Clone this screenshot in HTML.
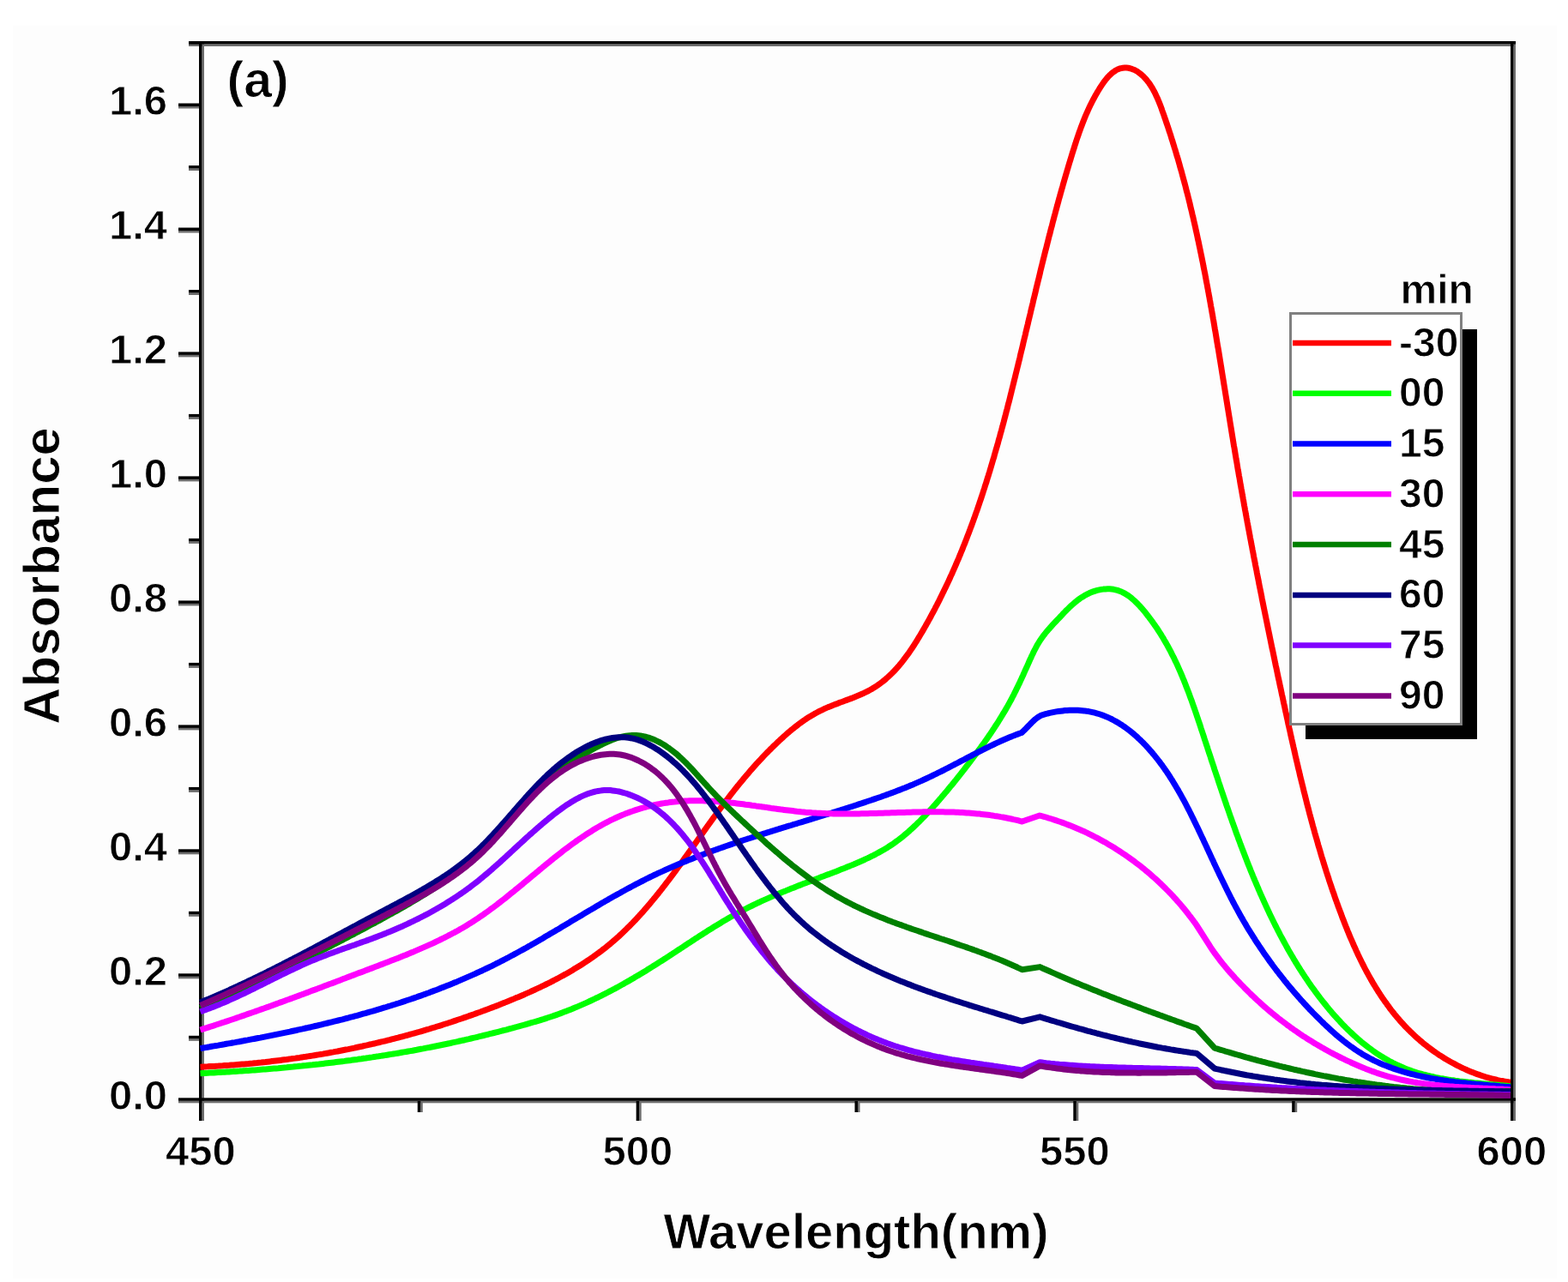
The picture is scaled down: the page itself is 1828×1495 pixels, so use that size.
<!DOCTYPE html><html><head><meta charset="utf-8"><title>Absorbance spectra</title><style>html,body{margin:0;padding:0;background:#fff;}svg{display:block;}</style></head><body><svg width="1828" height="1495" viewBox="0 0 1828 1495"><rect x="15" y="30" width="1800" height="1461" fill="#fdfdfd"/><g><g fill="#6e6e6e"><rect x="235.5" y="48.0" width="2.5" height="1259.0"/><rect x="1764.5" y="48.0" width="2.5" height="1259.0"/><rect x="220.0" y="51.5" width="1547.0" height="2.5"/><rect x="208.0" y="1283.8" width="1559.0" height="2.5"/><rect x="220.0" y="1211.3" width="14.0" height="2.5"/><rect x="208.0" y="1138.8" width="26.0" height="2.5"/><rect x="220.0" y="1066.3" width="14.0" height="2.5"/><rect x="208.0" y="993.8" width="26.0" height="2.5"/><rect x="220.0" y="921.4" width="14.0" height="2.5"/><rect x="208.0" y="848.9" width="26.0" height="2.5"/><rect x="220.0" y="776.4" width="14.0" height="2.5"/><rect x="208.0" y="703.9" width="26.0" height="2.5"/><rect x="220.0" y="631.4" width="14.0" height="2.5"/><rect x="208.0" y="558.9" width="26.0" height="2.5"/><rect x="220.0" y="486.4" width="14.0" height="2.5"/><rect x="208.0" y="413.9" width="26.0" height="2.5"/><rect x="220.0" y="341.5" width="14.0" height="2.5"/><rect x="208.0" y="269.0" width="26.0" height="2.5"/><rect x="220.0" y="196.5" width="14.0" height="2.5"/><rect x="208.0" y="124.0" width="26.0" height="2.5"/><rect x="220.0" y="51.5" width="14.0" height="2.5"/><rect x="490.3" y="1284.0" width="2.5" height="13.0"/><rect x="745.2" y="1284.0" width="2.5" height="23.0"/><rect x="1000.0" y="1284.0" width="2.5" height="13.0"/><rect x="1254.8" y="1284.0" width="2.5" height="23.0"/><rect x="1509.7" y="1284.0" width="2.5" height="13.0"/></g><g fill="#000"><rect x="232.0" y="48.0" width="3.5" height="1259.0"/><rect x="1761.0" y="48.0" width="3.5" height="1259.0"/><rect x="220.0" y="48.0" width="1547.0" height="3.5"/><rect x="208.0" y="1280.3" width="1559.0" height="3.5"/><rect x="220.0" y="1207.8" width="14.0" height="3.5"/><rect x="208.0" y="1135.3" width="26.0" height="3.5"/><rect x="220.0" y="1062.8" width="14.0" height="3.5"/><rect x="208.0" y="990.3" width="26.0" height="3.5"/><rect x="220.0" y="917.9" width="14.0" height="3.5"/><rect x="208.0" y="845.4" width="26.0" height="3.5"/><rect x="220.0" y="772.9" width="14.0" height="3.5"/><rect x="208.0" y="700.4" width="26.0" height="3.5"/><rect x="220.0" y="627.9" width="14.0" height="3.5"/><rect x="208.0" y="555.4" width="26.0" height="3.5"/><rect x="220.0" y="482.9" width="14.0" height="3.5"/><rect x="208.0" y="410.4" width="26.0" height="3.5"/><rect x="220.0" y="338.0" width="14.0" height="3.5"/><rect x="208.0" y="265.5" width="26.0" height="3.5"/><rect x="220.0" y="193.0" width="14.0" height="3.5"/><rect x="208.0" y="120.5" width="26.0" height="3.5"/><rect x="220.0" y="48.0" width="14.0" height="3.5"/><rect x="486.8" y="1284.0" width="3.5" height="13.0"/><rect x="741.7" y="1284.0" width="3.5" height="23.0"/><rect x="996.5" y="1284.0" width="3.5" height="13.0"/><rect x="1251.3" y="1284.0" width="3.5" height="23.0"/><rect x="1506.2" y="1284.0" width="3.5" height="13.0"/></g></g><g fill="none" stroke-width="7" stroke-linejoin="round" stroke-linecap="butt"><path d="M233.5 1244.2 L237.0 1244.0 239.5 1243.9 242.0 1243.8 244.5 1243.6 247.0 1243.5 249.6 1243.4 252.1 1243.2 254.6 1243.1 257.1 1242.9 259.6 1242.8 262.1 1242.6 264.6 1242.4 267.1 1242.3 269.6 1242.1 272.1 1241.9 274.6 1241.7 277.1 1241.5 279.6 1241.3 282.1 1241.1 284.6 1240.9 287.1 1240.7 289.6 1240.5 292.1 1240.2 294.6 1240.0 297.1 1239.7 299.6 1239.5 302.0 1239.2 304.5 1239.0 307.0 1238.7 309.5 1238.5 312.0 1238.2 314.5 1237.9 317.0 1237.6 319.4 1237.3 321.9 1237.0 324.4 1236.7 326.9 1236.4 329.4 1236.1 331.8 1235.8 334.3 1235.5 336.8 1235.1 339.3 1234.8 341.8 1234.4 344.2 1234.1 346.7 1233.7 349.2 1233.4 351.6 1233.0 354.1 1232.6 356.6 1232.3 359.0 1231.9 361.5 1231.5 364.0 1231.1 366.4 1230.7 368.9 1230.3 371.4 1229.9 373.8 1229.5 376.3 1229.1 378.7 1228.6 381.2 1228.2 383.7 1227.8 386.1 1227.3 388.6 1226.9 391.0 1226.4 393.5 1226.0 395.9 1225.5 398.4 1225.0 400.8 1224.5 403.3 1224.0 405.7 1223.6 408.2 1223.1 410.6 1222.6 413.0 1222.1 415.5 1221.5 417.9 1221.0 420.4 1220.5 422.8 1220.0 425.2 1219.4 427.7 1218.9 430.1 1218.3 432.5 1217.8 435.0 1217.2 437.4 1216.7 439.8 1216.1 442.3 1215.5 444.7 1214.9 447.1 1214.4 449.5 1213.8 452.0 1213.2 454.4 1212.6 456.8 1211.9 459.2 1211.3 461.7 1210.7 464.1 1210.1 466.5 1209.4 468.9 1208.8 471.3 1208.2 473.7 1207.5 476.1 1206.9 478.6 1206.2 481.0 1205.5 483.4 1204.8 485.8 1204.2 488.2 1203.5 490.6 1202.8 493.0 1202.1 495.4 1201.4 497.8 1200.7 500.2 1200.0 502.6 1199.2 505.0 1198.5 507.4 1197.8 509.8 1197.0 512.2 1196.3 514.5 1195.6 516.9 1194.8 519.3 1194.0 521.7 1193.3 524.1 1192.5 526.5 1191.7 528.9 1190.9 531.2 1190.1 533.6 1189.3 536.0 1188.5 538.4 1187.7 540.7 1186.9 543.1 1186.1 545.5 1185.3 547.9 1184.4 550.2 1183.6 552.6 1182.8 555.0 1181.9 557.3 1181.0 559.7 1180.2 562.1 1179.3 564.4 1178.4 566.8 1177.6 569.1 1176.7 571.5 1175.8 573.9 1174.9 576.2 1174.0 578.6 1173.1 580.9 1172.2 583.3 1171.2 585.6 1170.3 588.0 1169.4 590.3 1168.4 592.6 1167.5 595.0 1166.5 597.3 1165.6 599.6 1164.6 602.0 1163.6 604.3 1162.7 606.6 1161.7 608.9 1160.7 611.3 1159.7 613.6 1158.6 615.9 1157.6 618.2 1156.6 620.5 1155.5 622.8 1154.5 625.1 1153.4 627.3 1152.4 629.6 1151.3 631.9 1150.2 634.2 1149.1 636.4 1148.0 638.7 1146.9 640.9 1145.8 643.2 1144.6 645.4 1143.5 647.6 1142.3 649.8 1141.2 652.0 1140.0 654.2 1138.8 656.4 1137.6 658.6 1136.4 660.8 1135.2 663.0 1133.9 665.1 1132.7 667.3 1131.4 669.4 1130.1 671.6 1128.8 673.7 1127.5 675.8 1126.2 677.9 1124.9 680.0 1123.6 682.1 1122.2 684.1 1120.8 686.2 1119.5 688.2 1118.1 690.3 1116.7 692.3 1115.2 694.3 1113.8 696.3 1112.3 698.3 1110.9 700.3 1109.4 702.2 1107.9 704.2 1106.4 706.1 1104.9 708.1 1103.3 710.0 1101.8 711.9 1100.2 713.7 1098.6 715.6 1097.0 717.5 1095.4 719.3 1093.7 721.2 1092.1 723.0 1090.4 724.8 1088.7 726.6 1087.0 728.4 1085.3 730.1 1083.6 731.9 1081.8 733.7 1080.1 735.4 1078.3 737.1 1076.6 738.8 1074.8 740.6 1073.0 742.3 1071.2 743.9 1069.4 745.6 1067.5 747.3 1065.7 749.0 1063.8 750.6 1062.0 752.2 1060.1 753.9 1058.2 755.5 1056.3 757.1 1054.4 758.7 1052.5 760.3 1050.6 761.9 1048.6 763.5 1046.7 765.1 1044.8 766.7 1042.8 768.2 1040.8 769.8 1038.9 771.4 1036.9 772.9 1034.9 774.5 1032.9 776.0 1030.9 777.5 1028.9 779.1 1026.9 780.6 1024.9 782.1 1022.9 783.6 1020.9 785.1 1018.9 786.6 1016.8 788.1 1014.8 789.6 1012.7 791.1 1010.7 792.6 1008.7 794.1 1006.6 795.6 1004.6 797.0 1002.5 798.5 1000.4 800.0 998.4 801.5 996.3 802.9 994.3 804.4 992.2 805.9 990.1 807.3 988.1 808.8 986.0 810.3 983.9 811.7 981.9 813.2 979.8 814.7 977.7 816.1 975.7 817.6 973.6 819.1 971.5 820.5 969.5 822.0 967.4 823.5 965.3 824.9 963.3 826.4 961.2 827.9 959.2 829.3 957.1 830.8 955.1 832.3 953.0 833.8 951.0 835.3 949.0 836.7 946.9 838.2 944.9 839.7 942.9 841.2 940.9 842.7 938.9 844.2 936.9 845.7 934.9 847.2 932.9 848.8 930.9 850.3 928.9 851.8 926.9 853.3 924.9 854.9 923.0 856.4 921.0 858.0 919.1 859.5 917.1 861.1 915.2 862.6 913.3 864.2 911.4 865.8 909.5 867.4 907.5 869.0 905.7 870.6 903.8 872.2 901.9 873.8 900.0 875.4 898.1 877.0 896.3 878.7 894.4 880.3 892.6 882.0 890.7 883.7 888.9 885.3 887.1 887.0 885.3 888.7 883.5 890.4 881.7 892.1 879.9 893.8 878.1 895.6 876.4 897.3 874.6 899.1 872.9 900.8 871.1 902.6 869.4 904.4 867.7 906.2 865.9 908.0 864.2 909.8 862.5 911.7 860.9 913.5 859.2 915.4 857.5 917.2 855.9 919.1 854.2 921.0 852.6 922.9 851.0 924.9 849.5 926.8 847.9 928.8 846.4 930.8 844.8 932.8 843.3 934.8 841.9 936.9 840.4 938.9 839.0 941.0 837.6 943.1 836.3 945.3 835.0 947.4 833.7 949.6 832.4 951.8 831.2 954.0 830.0 956.3 828.9 958.6 827.8 960.9 826.7 963.2 825.6 965.5 824.6 967.9 823.7 970.3 822.7 972.7 821.8 975.1 820.9 977.5 819.9 979.9 819.0 982.3 818.2 984.7 817.3 987.1 816.4 989.5 815.5 991.9 814.6 994.3 813.7 996.7 812.7 999.0 811.8 1001.4 810.8 1003.7 809.8 1006.0 808.8 1008.3 807.7 1010.5 806.6 1012.7 805.5 1014.9 804.3 1017.0 803.1 1019.1 801.8 1021.2 800.5 1023.2 799.1 1025.2 797.7 1027.1 796.3 1029.1 794.8 1031.0 793.2 1032.8 791.7 1034.7 790.0 1036.5 788.4 1038.2 786.7 1040.0 785.0 1041.7 783.3 1043.4 781.5 1045.1 779.7 1046.7 777.8 1048.3 776.0 1049.9 774.1 1051.5 772.1 1053.0 770.2 1054.5 768.2 1056.0 766.2 1057.5 764.2 1059.0 762.2 1060.4 760.1 1061.8 758.0 1063.2 756.0 1064.6 753.8 1066.0 751.7 1067.3 749.6 1068.7 747.5 1070.0 745.3 1071.3 743.1 1072.6 741.0 1073.9 738.8 1075.2 736.6 1076.5 734.4 1077.7 732.2 1079.0 730.0 1080.2 727.8 1081.5 725.6 1082.7 723.4 1083.9 721.2 1085.1 719.0 1086.3 716.7 1087.5 714.5 1088.7 712.3 1089.9 710.1 1091.0 707.8 1092.2 705.6 1093.3 703.4 1094.5 701.1 1095.6 698.9 1096.7 696.6 1097.8 694.4 1098.9 692.1 1100.0 689.9 1101.1 687.6 1102.2 685.4 1103.3 683.1 1104.4 680.8 1105.4 678.6 1106.5 676.3 1107.5 674.0 1108.5 671.7 1109.6 669.5 1110.6 667.2 1111.6 664.9 1112.6 662.6 1113.6 660.3 1114.6 658.0 1115.6 655.7 1116.6 653.4 1117.6 651.1 1118.5 648.8 1119.5 646.5 1120.4 644.2 1121.4 641.9 1122.3 639.6 1123.2 637.2 1124.2 634.9 1125.1 632.6 1126.0 630.3 1126.9 628.0 1127.8 625.6 1128.7 623.3 1129.6 621.0 1130.5 618.6 1131.3 616.3 1132.2 613.9 1133.1 611.6 1133.9 609.3 1134.8 606.9 1135.6 604.6 1136.5 602.2 1137.3 599.9 1138.1 597.5 1139.0 595.2 1139.8 592.8 1140.6 590.4 1141.4 588.1 1142.2 585.7 1143.0 583.3 1143.8 581.0 1144.6 578.6 1145.4 576.2 1146.1 573.9 1146.9 571.5 1147.7 569.1 1148.4 566.7 1149.2 564.3 1150.0 562.0 1150.7 559.6 1151.4 557.2 1152.2 554.8 1152.9 552.4 1153.7 550.0 1154.4 547.6 1155.1 545.2 1155.8 542.8 1156.5 540.4 1157.2 538.1 1157.9 535.7 1158.7 533.3 1159.3 530.9 1160.0 528.4 1160.7 526.0 1161.4 523.6 1162.1 521.2 1162.8 518.8 1163.5 516.4 1164.1 514.0 1164.8 511.6 1165.5 509.2 1166.1 506.8 1166.8 504.3 1167.5 501.9 1168.1 499.5 1168.8 497.1 1169.4 494.7 1170.1 492.2 1170.7 489.8 1171.3 487.4 1172.0 485.0 1172.6 482.6 1173.2 480.1 1173.9 477.7 1174.5 475.3 1175.1 472.8 1175.7 470.4 1176.4 468.0 1177.0 465.6 1177.6 463.1 1178.2 460.7 1178.8 458.3 1179.4 455.8 1180.0 453.4 1180.6 451.0 1181.2 448.5 1181.8 446.1 1182.4 443.7 1183.0 441.2 1183.6 438.8 1184.2 436.3 1184.8 433.9 1185.4 431.5 1186.0 429.0 1186.6 426.6 1187.2 424.1 1187.8 421.7 1188.4 419.3 1189.0 416.8 1189.5 414.4 1190.1 411.9 1190.7 409.5 1191.3 407.1 1191.9 404.6 1192.5 402.2 1193.0 399.7 1193.6 397.3 1194.2 394.8 1194.8 392.4 1195.4 390.0 1195.9 387.5 1196.5 385.1 1197.1 382.6 1197.7 380.2 1198.3 377.7 1198.8 375.3 1199.4 372.9 1200.0 370.4 1200.6 368.0 1201.2 365.5 1201.7 363.1 1202.3 360.6 1202.9 358.2 1203.5 355.8 1204.1 353.3 1204.6 350.9 1205.2 348.4 1205.8 346.0 1206.4 343.6 1207.0 341.1 1207.6 338.7 1208.1 336.2 1208.7 333.8 1209.3 331.4 1209.9 328.9 1210.5 326.5 1211.1 324.1 1211.7 321.6 1212.3 319.2 1212.8 316.8 1213.4 314.3 1214.0 311.9 1214.6 309.5 1215.2 307.0 1215.8 304.6 1216.4 302.2 1217.0 299.7 1217.6 297.3 1218.2 294.9 1218.8 292.4 1219.5 290.0 1220.1 287.6 1220.7 285.2 1221.3 282.7 1221.9 280.3 1222.5 277.9 1223.1 275.5 1223.8 273.1 1224.4 270.6 1225.0 268.2 1225.6 265.8 1226.3 263.4 1226.9 261.0 1227.5 258.5 1228.2 256.1 1228.8 253.7 1229.4 251.3 1230.1 248.9 1230.7 246.5 1231.4 244.1 1232.0 241.7 1232.7 239.3 1233.3 236.9 1234.0 234.5 1234.6 232.1 1235.3 229.7 1236.0 227.3 1236.6 224.9 1237.3 222.5 1238.0 220.1 1238.7 217.7 1239.3 215.3 1240.0 212.9 1240.7 210.5 1241.4 208.1 1242.1 205.7 1242.8 203.3 1243.5 200.9 1244.2 198.6 1244.9 196.2 1245.6 193.8 1246.3 191.4 1247.0 189.1 1247.8 186.7 1248.5 184.3 1249.2 181.9 1249.9 179.6 1250.7 177.2 1251.4 174.8 1252.2 172.5 1252.9 170.1 1253.7 167.7 1254.4 165.4 1255.2 163.0 1256.0 160.7 1256.8 158.3 1257.6 156.0 1258.4 153.6 1259.3 151.3 1260.1 148.9 1261.0 146.6 1261.9 144.2 1262.8 141.9 1263.7 139.6 1264.7 137.2 1265.6 134.9 1266.6 132.6 1267.7 130.2 1268.7 127.9 1269.8 125.6 1270.9 123.2 1272.1 120.9 1273.2 118.6 1274.4 116.3 1275.7 114.0 1276.9 111.6 1278.3 109.3 1279.6 107.0 1281.0 104.7 1282.4 102.4 1283.9 100.1 1285.4 97.9 1286.9 95.7 1288.5 93.6 1290.1 91.6 1291.8 89.7 1293.5 87.9 1295.3 86.2 1297.1 84.6 1299.0 83.3 1300.9 82.0 1302.8 81.0 1304.8 80.2 1306.9 79.6 1309.0 79.2 1311.1 79.0 1313.2 79.1 1315.4 79.3 1317.5 79.7 1319.6 80.4 1321.7 81.2 1323.8 82.2 1325.8 83.3 1327.7 84.7 1329.6 86.1 1331.5 87.7 1333.2 89.3 1334.9 91.1 1336.5 92.9 1338.0 94.8 1339.5 96.7 1340.9 98.8 1342.2 100.8 1343.5 102.9 1344.7 105.1 1345.9 107.3 1347.0 109.6 1348.1 111.9 1349.2 114.2 1350.2 116.6 1351.2 118.9 1352.1 121.3 1353.1 123.8 1354.0 126.2 1354.8 128.6 1355.7 131.1 1356.6 133.5 1357.4 136.0 1358.3 138.4 1359.1 140.9 1359.9 143.3 1360.8 145.8 1361.6 148.2 1362.4 150.6 1363.2 153.1 1364.0 155.5 1364.8 157.9 1365.5 160.4 1366.3 162.8 1367.1 165.2 1367.8 167.7 1368.6 170.1 1369.3 172.5 1370.1 174.9 1370.8 177.4 1371.5 179.8 1372.2 182.2 1373.0 184.6 1373.7 187.0 1374.4 189.5 1375.1 191.9 1375.7 194.3 1376.4 196.7 1377.1 199.1 1377.8 201.5 1378.4 204.0 1379.1 206.4 1379.7 208.8 1380.4 211.2 1381.0 213.6 1381.7 216.0 1382.3 218.4 1382.9 220.9 1383.5 223.3 1384.2 225.7 1384.8 228.1 1385.4 230.5 1386.0 232.9 1386.6 235.3 1387.2 237.7 1387.7 240.2 1388.3 242.6 1388.9 245.0 1389.5 247.4 1390.0 249.8 1390.6 252.2 1391.2 254.6 1391.7 257.1 1392.3 259.5 1392.8 261.9 1393.4 264.3 1393.9 266.7 1394.4 269.2 1395.0 271.6 1395.5 274.0 1396.0 276.4 1396.5 278.9 1397.1 281.3 1397.6 283.7 1398.1 286.2 1398.6 288.6 1399.1 291.0 1399.6 293.5 1400.1 295.9 1400.6 298.3 1401.1 300.8 1401.6 303.2 1402.1 305.6 1402.6 308.1 1403.0 310.5 1403.5 313.0 1404.0 315.4 1404.5 317.9 1405.0 320.3 1405.4 322.8 1405.9 325.2 1406.3 327.7 1406.8 330.1 1407.3 332.6 1407.7 335.0 1408.2 337.5 1408.6 339.9 1409.1 342.4 1409.5 344.8 1410.0 347.3 1410.4 349.7 1410.9 352.2 1411.3 354.7 1411.7 357.1 1412.2 359.6 1412.6 362.0 1413.0 364.5 1413.5 367.0 1413.9 369.4 1414.3 371.9 1414.8 374.4 1415.2 376.8 1415.6 379.3 1416.0 381.8 1416.4 384.2 1416.9 386.7 1417.3 389.2 1417.7 391.6 1418.1 394.1 1418.5 396.6 1418.9 399.1 1419.3 401.5 1419.7 404.0 1420.2 406.5 1420.6 408.9 1421.0 411.4 1421.4 413.9 1421.8 416.4 1422.2 418.8 1422.6 421.3 1423.0 423.8 1423.4 426.3 1423.8 428.7 1424.2 431.2 1424.6 433.7 1425.0 436.2 1425.4 438.7 1425.8 441.1 1426.2 443.6 1426.6 446.1 1427.0 448.6 1427.4 451.0 1427.8 453.5 1428.2 456.0 1428.6 458.5 1429.0 461.0 1429.4 463.4 1429.8 465.9 1430.2 468.4 1430.6 470.9 1431.0 473.4 1431.4 475.8 1431.8 478.3 1432.2 480.8 1432.6 483.3 1433.0 485.8 1433.4 488.2 1433.8 490.7 1434.2 493.2 1434.6 495.7 1435.0 498.1 1435.4 500.6 1435.8 503.1 1436.2 505.6 1436.6 508.1 1437.0 510.5 1437.4 513.0 1437.8 515.5 1438.2 518.0 1438.6 520.4 1439.1 522.9 1439.5 525.4 1439.9 527.9 1440.3 530.3 1440.7 532.8 1441.1 535.3 1441.6 537.8 1442.0 540.2 1442.4 542.7 1442.8 545.2 1443.2 547.7 1443.7 550.1 1444.1 552.6 1444.5 555.1 1445.0 557.5 1445.4 560.0 1445.8 562.5 1446.2 565.0 1446.7 567.4 1447.1 569.9 1447.6 572.4 1448.0 574.8 1448.4 577.3 1448.9 579.8 1449.3 582.2 1449.8 584.7 1450.2 587.2 1450.6 589.6 1451.1 592.1 1451.5 594.6 1452.0 597.0 1452.4 599.5 1452.9 602.0 1453.3 604.4 1453.8 606.9 1454.2 609.4 1454.7 611.8 1455.1 614.3 1455.6 616.7 1456.1 619.2 1456.5 621.7 1457.0 624.1 1457.4 626.6 1457.9 629.1 1458.4 631.5 1458.8 634.0 1459.3 636.4 1459.8 638.9 1460.2 641.4 1460.7 643.8 1461.2 646.3 1461.6 648.7 1462.1 651.2 1462.6 653.7 1463.1 656.1 1463.5 658.6 1464.0 661.0 1464.5 663.5 1465.0 665.9 1465.4 668.4 1465.9 670.9 1466.4 673.3 1466.9 675.8 1467.4 678.2 1467.8 680.7 1468.3 683.1 1468.8 685.6 1469.3 688.0 1469.8 690.5 1470.3 693.0 1470.8 695.4 1471.2 697.9 1471.7 700.3 1472.2 702.8 1472.7 705.2 1473.2 707.7 1473.7 710.1 1474.2 712.6 1474.7 715.0 1475.2 717.5 1475.7 719.9 1476.2 722.4 1476.7 724.8 1477.2 727.3 1477.7 729.7 1478.2 732.2 1478.7 734.6 1479.2 737.1 1479.7 739.5 1480.2 742.0 1480.7 744.4 1481.2 746.9 1481.7 749.3 1482.2 751.8 1482.7 754.2 1483.2 756.7 1483.8 759.1 1484.3 761.6 1484.8 764.0 1485.3 766.5 1485.8 768.9 1486.3 771.4 1486.8 773.8 1487.3 776.2 1487.9 778.7 1488.4 781.1 1488.9 783.6 1489.4 786.0 1489.9 788.5 1490.4 790.9 1491.0 793.4 1491.5 795.8 1492.0 798.3 1492.5 800.7 1493.1 803.1 1493.6 805.6 1494.1 808.0 1494.6 810.5 1495.2 812.9 1495.7 815.4 1496.2 817.8 1496.7 820.2 1497.3 822.7 1497.8 825.1 1498.3 827.6 1498.8 830.0 1499.4 832.5 1499.9 834.9 1500.4 837.3 1501.0 839.8 1501.5 842.2 1502.0 844.7 1502.6 847.1 1503.1 849.5 1503.7 852.0 1504.2 854.4 1504.7 856.9 1505.3 859.3 1505.8 861.7 1506.4 864.2 1506.9 866.6 1507.5 869.0 1508.0 871.5 1508.6 873.9 1509.1 876.4 1509.7 878.8 1510.2 881.2 1510.8 883.7 1511.3 886.1 1511.9 888.5 1512.5 891.0 1513.0 893.4 1513.6 895.8 1514.2 898.3 1514.8 900.7 1515.3 903.1 1515.9 905.6 1516.5 908.0 1517.1 910.4 1517.7 912.8 1518.3 915.3 1518.9 917.7 1519.5 920.1 1520.0 922.5 1520.7 925.0 1521.3 927.4 1521.9 929.8 1522.5 932.2 1523.1 934.7 1523.7 937.1 1524.3 939.5 1525.0 941.9 1525.6 944.3 1526.2 946.8 1526.8 949.2 1527.5 951.6 1528.1 954.0 1528.8 956.4 1529.4 958.8 1530.1 961.3 1530.7 963.7 1531.4 966.1 1532.1 968.5 1532.7 970.9 1533.4 973.3 1534.1 975.7 1534.8 978.1 1535.5 980.5 1536.2 982.9 1536.8 985.4 1537.6 987.8 1538.3 990.2 1539.0 992.6 1539.7 995.0 1540.4 997.4 1541.1 999.8 1541.9 1002.2 1542.6 1004.6 1543.3 1006.9 1544.1 1009.3 1544.8 1011.7 1545.6 1014.1 1546.3 1016.5 1547.1 1018.9 1547.9 1021.3 1548.7 1023.7 1549.4 1026.1 1550.2 1028.5 1551.0 1030.8 1551.8 1033.2 1552.6 1035.6 1553.4 1038.0 1554.3 1040.4 1555.1 1042.7 1555.9 1045.1 1556.7 1047.5 1557.6 1049.9 1558.4 1052.2 1559.3 1054.6 1560.1 1057.0 1561.0 1059.3 1561.9 1061.7 1562.8 1064.1 1563.7 1066.4 1564.5 1068.8 1565.4 1071.2 1566.4 1073.5 1567.3 1075.9 1568.2 1078.2 1569.1 1080.6 1570.1 1082.9 1571.0 1085.3 1572.0 1087.6 1572.9 1089.9 1573.9 1092.3 1574.9 1094.6 1575.9 1096.9 1576.9 1099.2 1577.9 1101.5 1578.9 1103.8 1580.0 1106.1 1581.0 1108.4 1582.1 1110.7 1583.1 1113.0 1584.2 1115.3 1585.3 1117.5 1586.4 1119.8 1587.5 1122.0 1588.6 1124.3 1589.8 1126.5 1590.9 1128.7 1592.1 1131.0 1593.3 1133.2 1594.5 1135.4 1595.7 1137.6 1596.9 1139.7 1598.1 1141.9 1599.4 1144.1 1600.6 1146.2 1601.9 1148.4 1603.2 1150.5 1604.5 1152.6 1605.8 1154.7 1607.1 1156.8 1608.5 1158.9 1609.8 1161.0 1611.2 1163.0 1612.6 1165.1 1614.0 1167.1 1615.5 1169.1 1616.9 1171.1 1618.4 1173.1 1619.8 1175.1 1621.3 1177.1 1622.9 1179.1 1624.4 1181.0 1625.9 1182.9 1627.5 1184.8 1629.1 1186.7 1630.7 1188.6 1632.3 1190.5 1634.0 1192.3 1635.7 1194.2 1637.3 1196.0 1639.0 1197.8 1640.8 1199.6 1642.5 1201.3 1644.3 1203.1 1646.1 1204.8 1647.9 1206.5 1649.7 1208.2 1651.5 1209.9 1653.4 1211.5 1655.3 1213.2 1657.2 1214.8 1659.1 1216.4 1661.1 1218.0 1663.1 1219.5 1665.0 1221.1 1667.1 1222.6 1669.1 1224.1 1671.1 1225.6 1673.2 1227.0 1675.3 1228.5 1677.3 1229.9 1679.5 1231.2 1681.6 1232.6 1683.7 1233.9 1685.9 1235.3 1688.0 1236.5 1690.2 1237.8 1692.4 1239.0 1694.7 1240.2 1696.9 1241.4 1699.1 1242.6 1701.4 1243.7 1703.6 1244.8 1705.9 1245.9 1708.2 1246.9 1710.5 1248.0 1712.8 1248.9 1715.2 1249.9 1717.5 1250.8 1719.8 1251.7 1722.2 1252.6 1724.6 1253.4 1726.9 1254.2 1729.3 1255.0 1731.7 1255.8 1734.1 1256.5 1736.5 1257.2 1739.0 1257.8 1741.4 1258.4 1743.8 1259.0 1746.2 1259.6 1748.7 1260.1 1751.1 1260.5 1753.6 1261.0 1756.1 1261.4 1758.5 1261.8 1761.0 1262.1" stroke="#ff0000"/><path d="M233.5 1251.7 L237.0 1251.5 239.5 1251.4 242.0 1251.3 244.5 1251.1 247.0 1251.0 249.4 1250.9 251.9 1250.7 254.4 1250.6 256.9 1250.5 259.4 1250.3 261.9 1250.2 264.4 1250.0 266.9 1249.9 269.4 1249.7 271.9 1249.6 274.4 1249.4 276.9 1249.2 279.3 1249.1 281.8 1248.9 284.3 1248.7 286.8 1248.6 289.3 1248.4 291.8 1248.2 294.3 1248.0 296.8 1247.9 299.3 1247.7 301.8 1247.5 304.3 1247.3 306.8 1247.1 309.3 1246.9 311.8 1246.7 314.3 1246.5 316.8 1246.3 319.3 1246.1 321.8 1245.9 324.3 1245.7 326.8 1245.4 329.3 1245.2 331.8 1245.0 334.3 1244.8 336.8 1244.5 339.3 1244.3 341.8 1244.1 344.3 1243.8 346.8 1243.6 349.3 1243.3 351.8 1243.1 354.3 1242.8 356.8 1242.6 359.3 1242.3 361.8 1242.0 364.3 1241.8 366.7 1241.5 369.2 1241.2 371.7 1241.0 374.2 1240.7 376.7 1240.4 379.2 1240.1 381.7 1239.8 384.2 1239.5 386.7 1239.2 389.2 1238.9 391.7 1238.6 394.2 1238.3 396.7 1238.0 399.2 1237.7 401.6 1237.4 404.1 1237.0 406.6 1236.7 409.1 1236.4 411.6 1236.0 414.1 1235.7 416.6 1235.4 419.0 1235.0 421.5 1234.7 424.0 1234.3 426.5 1234.0 429.0 1233.6 431.5 1233.2 433.9 1232.9 436.4 1232.5 438.9 1232.1 441.4 1231.8 443.9 1231.4 446.3 1231.0 448.8 1230.6 451.3 1230.2 453.7 1229.8 456.2 1229.4 458.7 1229.0 461.2 1228.6 463.6 1228.2 466.1 1227.8 468.6 1227.3 471.0 1226.9 473.5 1226.5 476.0 1226.0 478.4 1225.6 480.9 1225.2 483.3 1224.7 485.8 1224.3 488.3 1223.8 490.7 1223.3 493.2 1222.9 495.6 1222.4 498.1 1221.9 500.5 1221.5 503.0 1221.0 505.4 1220.5 507.9 1220.0 510.3 1219.5 512.8 1219.0 515.2 1218.5 517.6 1218.0 520.1 1217.5 522.5 1217.0 524.9 1216.5 527.4 1215.9 529.8 1215.4 532.2 1214.9 534.7 1214.3 537.1 1213.8 539.5 1213.2 542.0 1212.7 544.4 1212.1 546.8 1211.6 549.2 1211.0 551.7 1210.4 554.1 1209.9 556.5 1209.3 558.9 1208.7 561.3 1208.1 563.8 1207.5 566.2 1206.9 568.6 1206.3 571.0 1205.7 573.4 1205.1 575.9 1204.5 578.3 1203.9 580.7 1203.3 583.1 1202.7 585.5 1202.0 588.0 1201.4 590.4 1200.8 592.8 1200.1 595.2 1199.5 597.7 1198.8 600.1 1198.2 602.5 1197.5 604.9 1196.8 607.4 1196.2 609.8 1195.5 612.2 1194.8 614.7 1194.1 617.1 1193.4 619.5 1192.7 621.9 1192.0 624.4 1191.3 626.8 1190.6 629.2 1189.9 631.6 1189.1 634.0 1188.4 636.4 1187.6 638.8 1186.8 641.2 1186.0 643.6 1185.2 646.0 1184.4 648.3 1183.6 650.7 1182.7 653.0 1181.9 655.4 1181.0 657.7 1180.1 660.1 1179.2 662.4 1178.3 664.7 1177.4 667.0 1176.5 669.3 1175.5 671.6 1174.6 673.9 1173.6 676.2 1172.6 678.5 1171.6 680.8 1170.6 683.1 1169.6 685.3 1168.6 687.6 1167.5 689.8 1166.5 692.1 1165.4 694.3 1164.3 696.6 1163.3 698.8 1162.2 701.0 1161.1 703.3 1159.9 705.5 1158.8 707.7 1157.7 709.9 1156.5 712.1 1155.4 714.3 1154.2 716.5 1153.1 718.7 1151.9 720.9 1150.7 723.0 1149.5 725.2 1148.3 727.4 1147.1 729.6 1145.8 731.7 1144.6 733.9 1143.4 736.0 1142.1 738.2 1140.9 740.3 1139.6 742.5 1138.3 744.6 1137.1 746.8 1135.8 748.9 1134.5 751.0 1133.2 753.2 1131.9 755.3 1130.6 757.4 1129.3 759.6 1127.9 761.7 1126.6 763.8 1125.3 765.9 1123.9 768.0 1122.6 770.1 1121.2 772.2 1119.9 774.4 1118.5 776.5 1117.2 778.6 1115.8 780.7 1114.4 782.8 1113.1 784.9 1111.7 787.0 1110.3 789.1 1108.9 791.2 1107.5 793.3 1106.2 795.4 1104.8 797.5 1103.4 799.6 1102.0 801.7 1100.6 803.8 1099.3 805.9 1097.9 808.0 1096.5 810.1 1095.1 812.2 1093.8 814.3 1092.4 816.4 1091.0 818.5 1089.7 820.7 1088.3 822.8 1087.0 824.9 1085.6 827.0 1084.3 829.2 1083.0 831.3 1081.6 833.4 1080.3 835.6 1079.0 837.7 1077.7 839.8 1076.4 842.0 1075.1 844.1 1073.8 846.3 1072.6 848.5 1071.3 850.6 1070.0 852.8 1068.8 855.0 1067.6 857.2 1066.4 859.3 1065.2 861.5 1064.0 863.7 1062.8 865.9 1061.6 868.2 1060.5 870.4 1059.3 872.6 1058.2 874.8 1057.1 877.1 1056.0 879.3 1054.9 881.6 1053.8 883.8 1052.7 886.1 1051.7 888.3 1050.6 890.6 1049.6 892.9 1048.6 895.2 1047.6 897.4 1046.6 899.7 1045.6 902.0 1044.6 904.3 1043.6 906.6 1042.7 908.9 1041.7 911.2 1040.7 913.6 1039.8 915.9 1038.9 918.2 1037.9 920.5 1037.0 922.8 1036.1 925.2 1035.2 927.5 1034.2 929.8 1033.3 932.2 1032.4 934.5 1031.5 936.8 1030.6 939.2 1029.7 941.5 1028.8 943.8 1027.9 946.2 1027.1 948.5 1026.2 950.9 1025.3 953.2 1024.4 955.6 1023.5 957.9 1022.6 960.3 1021.7 962.6 1020.8 965.0 1019.9 967.3 1019.1 969.6 1018.2 972.0 1017.3 974.3 1016.4 976.7 1015.4 979.0 1014.5 981.3 1013.6 983.7 1012.7 986.0 1011.8 988.3 1010.8 990.7 1009.9 993.0 1008.9 995.3 1008.0 997.6 1007.0 999.9 1006.0 1002.2 1005.0 1004.5 1004.0 1006.8 1003.0 1009.0 1001.9 1011.3 1000.9 1013.5 999.8 1015.7 998.7 1018.0 997.6 1020.2 996.5 1022.4 995.3 1024.5 994.1 1026.7 992.9 1028.8 991.7 1031.0 990.4 1033.1 989.2 1035.2 987.9 1037.3 986.5 1039.3 985.2 1041.4 983.8 1043.4 982.4 1045.4 980.9 1047.4 979.5 1049.3 978.0 1051.3 976.4 1053.2 974.9 1055.1 973.3 1057.0 971.7 1058.9 970.1 1060.7 968.4 1062.6 966.8 1064.4 965.1 1066.2 963.4 1068.0 961.7 1069.8 959.9 1071.6 958.2 1073.4 956.4 1075.1 954.6 1076.9 952.8 1078.6 951.0 1080.3 949.2 1082.0 947.4 1083.7 945.5 1085.4 943.7 1087.1 941.8 1088.7 939.9 1090.4 938.1 1092.1 936.2 1093.7 934.3 1095.3 932.4 1097.0 930.5 1098.6 928.6 1100.2 926.7 1101.8 924.8 1103.4 922.9 1105.0 921.0 1106.6 919.0 1108.2 917.1 1109.8 915.2 1111.4 913.2 1112.9 911.3 1114.5 909.4 1116.1 907.4 1117.6 905.4 1119.2 903.5 1120.7 901.5 1122.2 899.6 1123.8 897.6 1125.3 895.6 1126.8 893.6 1128.4 891.7 1129.9 889.7 1131.4 887.7 1132.9 885.7 1134.4 883.7 1135.9 881.7 1137.4 879.7 1138.9 877.7 1140.4 875.6 1141.9 873.6 1143.4 871.6 1144.8 869.6 1146.3 867.5 1147.8 865.5 1149.2 863.4 1150.6 861.4 1152.1 859.3 1153.5 857.2 1154.9 855.2 1156.3 853.1 1157.7 851.0 1159.1 848.9 1160.4 846.8 1161.8 844.7 1163.2 842.6 1164.5 840.5 1165.8 838.4 1167.1 836.2 1168.4 834.1 1169.7 831.9 1171.0 829.8 1172.3 827.6 1173.5 825.5 1174.8 823.3 1176.0 821.1 1177.2 818.9 1178.4 816.7 1179.6 814.5 1180.7 812.3 1181.9 810.1 1183.0 807.8 1184.1 805.6 1185.2 803.3 1186.3 801.1 1187.4 798.8 1188.5 796.6 1189.5 794.3 1190.6 792.0 1191.6 789.8 1192.7 787.5 1193.7 785.2 1194.7 782.9 1195.7 780.6 1196.8 778.4 1197.8 776.1 1198.8 773.8 1199.8 771.5 1200.8 769.3 1201.9 767.0 1202.9 764.7 1204.0 762.5 1205.0 760.3 1206.1 758.1 1207.3 755.9 1208.4 753.7 1209.6 751.6 1210.9 749.5 1212.2 747.4 1213.5 745.4 1214.9 743.4 1216.4 741.4 1217.9 739.5 1219.4 737.5 1221.0 735.7 1222.6 733.8 1224.3 731.9 1225.9 730.1 1227.6 728.2 1229.3 726.4 1231.1 724.5 1232.8 722.7 1234.6 720.8 1236.3 719.0 1238.1 717.1 1239.8 715.2 1241.6 713.4 1243.4 711.5 1245.3 709.7 1247.1 707.9 1249.0 706.2 1250.9 704.5 1252.8 702.8 1254.8 701.2 1256.8 699.6 1258.8 698.1 1260.9 696.7 1263.0 695.4 1265.2 694.1 1267.5 692.9 1269.7 691.8 1272.0 690.8 1274.4 689.9 1276.8 689.1 1279.2 688.4 1281.6 687.9 1284.0 687.4 1286.4 687.1 1288.8 686.9 1291.2 686.8 1293.6 686.8 1296.0 687.0 1298.3 687.3 1300.6 687.8 1302.9 688.4 1305.1 689.2 1307.3 690.0 1309.4 691.1 1311.5 692.2 1313.6 693.5 1315.6 694.8 1317.6 696.3 1319.5 697.8 1321.4 699.5 1323.3 701.2 1325.1 703.0 1326.9 704.8 1328.7 706.7 1330.4 708.6 1332.1 710.6 1333.8 712.6 1335.5 714.6 1337.1 716.7 1338.7 718.7 1340.3 720.8 1341.8 722.8 1343.3 724.9 1344.8 727.0 1346.3 729.1 1347.8 731.2 1349.2 733.3 1350.6 735.5 1352.0 737.6 1353.3 739.7 1354.6 741.9 1356.0 744.0 1357.2 746.2 1358.5 748.4 1359.8 750.6 1361.0 752.8 1362.2 755.0 1363.4 757.2 1364.6 759.4 1365.7 761.6 1366.8 763.9 1368.0 766.1 1369.1 768.3 1370.1 770.6 1371.2 772.8 1372.3 775.1 1373.3 777.4 1374.3 779.7 1375.3 781.9 1376.3 784.2 1377.3 786.5 1378.3 788.8 1379.2 791.1 1380.2 793.4 1381.1 795.7 1382.0 798.0 1382.9 800.4 1383.8 802.7 1384.7 805.0 1385.6 807.3 1386.5 809.7 1387.3 812.0 1388.2 814.4 1389.1 816.7 1389.9 819.1 1390.7 821.4 1391.5 823.8 1392.4 826.1 1393.2 828.5 1394.0 830.8 1394.8 833.2 1395.6 835.6 1396.4 837.9 1397.2 840.3 1398.0 842.7 1398.8 845.0 1399.6 847.4 1400.3 849.8 1401.1 852.1 1401.9 854.5 1402.7 856.9 1403.5 859.3 1404.2 861.6 1405.0 864.0 1405.8 866.4 1406.6 868.8 1407.4 871.1 1408.1 873.5 1408.9 875.9 1409.7 878.3 1410.5 880.6 1411.3 883.0 1412.0 885.4 1412.8 887.8 1413.6 890.1 1414.4 892.5 1415.2 894.9 1415.9 897.3 1416.7 899.6 1417.5 902.0 1418.3 904.4 1419.1 906.7 1419.9 909.1 1420.6 911.5 1421.4 913.9 1422.2 916.2 1423.0 918.6 1423.8 921.0 1424.6 923.3 1425.4 925.7 1426.2 928.1 1427.0 930.4 1427.8 932.8 1428.6 935.2 1429.4 937.5 1430.2 939.9 1431.1 942.3 1431.9 944.6 1432.7 947.0 1433.5 949.3 1434.3 951.7 1435.2 954.1 1436.0 956.4 1436.8 958.8 1437.7 961.1 1438.5 963.5 1439.4 965.8 1440.2 968.2 1441.0 970.5 1441.9 972.9 1442.8 975.2 1443.6 977.6 1444.5 979.9 1445.4 982.3 1446.2 984.6 1447.1 986.9 1448.0 989.3 1448.9 991.6 1449.8 993.9 1450.7 996.3 1451.6 998.6 1452.5 1000.9 1453.4 1003.3 1454.3 1005.6 1455.2 1007.9 1456.1 1010.2 1457.1 1012.5 1458.0 1014.9 1458.9 1017.2 1459.9 1019.5 1460.8 1021.8 1461.8 1024.1 1462.7 1026.4 1463.7 1028.7 1464.7 1031.0 1465.7 1033.3 1466.7 1035.6 1467.6 1037.9 1468.6 1040.2 1469.6 1042.5 1470.7 1044.8 1471.7 1047.1 1472.7 1049.3 1473.7 1051.6 1474.8 1053.9 1475.8 1056.2 1476.9 1058.5 1477.9 1060.7 1479.0 1063.0 1480.0 1065.2 1481.1 1067.5 1482.2 1069.8 1483.3 1072.0 1484.4 1074.3 1485.5 1076.5 1486.6 1078.8 1487.8 1081.0 1488.9 1083.2 1490.0 1085.4 1491.2 1087.7 1492.3 1089.9 1493.5 1092.1 1494.7 1094.3 1495.9 1096.5 1497.1 1098.7 1498.3 1100.9 1499.5 1103.1 1500.7 1105.3 1501.9 1107.5 1503.2 1109.7 1504.4 1111.8 1505.7 1114.0 1507.0 1116.1 1508.2 1118.3 1509.5 1120.4 1510.8 1122.6 1512.1 1124.7 1513.4 1126.8 1514.8 1129.0 1516.1 1131.1 1517.5 1133.2 1518.8 1135.3 1520.2 1137.4 1521.6 1139.5 1523.0 1141.5 1524.4 1143.6 1525.8 1145.7 1527.2 1147.7 1528.6 1149.8 1530.1 1151.8 1531.6 1153.8 1533.0 1155.9 1534.5 1157.9 1536.0 1159.9 1537.5 1161.9 1539.0 1163.9 1540.6 1165.9 1542.1 1167.8 1543.7 1169.8 1545.3 1171.8 1546.8 1173.7 1548.4 1175.6 1550.0 1177.6 1551.7 1179.5 1553.3 1181.4 1554.9 1183.3 1556.6 1185.2 1558.3 1187.0 1560.0 1188.9 1561.7 1190.7 1563.4 1192.6 1565.1 1194.4 1566.9 1196.2 1568.6 1198.0 1570.4 1199.7 1572.2 1201.5 1574.0 1203.2 1575.8 1204.9 1577.6 1206.6 1579.5 1208.3 1581.3 1210.0 1583.2 1211.6 1585.1 1213.3 1587.0 1214.9 1588.9 1216.4 1590.9 1218.0 1592.8 1219.5 1594.8 1221.1 1596.8 1222.5 1598.8 1224.0 1600.8 1225.5 1602.8 1226.9 1604.9 1228.3 1606.9 1229.6 1609.0 1231.0 1611.1 1232.3 1613.2 1233.6 1615.3 1234.8 1617.5 1236.1 1619.6 1237.3 1621.8 1238.4 1624.0 1239.6 1626.2 1240.7 1628.4 1241.8 1630.7 1242.8 1633.0 1243.8 1635.2 1244.8 1637.5 1245.8 1639.9 1246.7 1642.2 1247.6 1644.5 1248.4 1646.9 1249.2 1649.3 1250.0 1651.7 1250.8 1654.1 1251.5 1656.5 1252.2 1659.0 1252.9 1661.4 1253.5 1663.9 1254.1 1666.3 1254.7 1668.8 1255.3 1671.3 1255.8 1673.8 1256.4 1676.3 1256.9 1678.8 1257.4 1681.3 1257.8 1683.8 1258.3 1686.3 1258.7 1688.9 1259.1 1691.4 1259.5 1693.9 1259.8 1696.5 1260.2 1699.0 1260.5 1701.6 1260.9 1704.1 1261.2 1706.6 1261.5 1709.2 1261.8 1711.7 1262.1 1714.3 1262.3 1716.8 1262.6 1719.3 1262.9 1721.8 1263.1 1724.3 1263.3 1726.9 1263.6 1729.4 1263.8 1731.9 1264.0 1734.3 1264.2 1736.8 1264.5 1739.3 1264.7 1741.8 1264.9 1744.2 1265.1 1746.6 1265.3 1749.1 1265.6 1751.5 1265.8 1753.9 1266.0 1756.3 1266.2 1758.6 1266.5 1761.0 1266.7" stroke="#00ff00"/><path d="M233.5 1222.6 L237.0 1222.0 239.5 1221.6 241.9 1221.2 244.4 1220.8 246.8 1220.3 249.3 1219.9 251.7 1219.5 254.2 1219.1 256.7 1218.6 259.1 1218.2 261.6 1217.8 264.1 1217.3 266.5 1216.9 269.0 1216.5 271.4 1216.0 273.9 1215.6 276.4 1215.1 278.8 1214.7 281.3 1214.2 283.8 1213.8 286.2 1213.3 288.7 1212.9 291.2 1212.4 293.6 1211.9 296.1 1211.5 298.5 1211.0 301.0 1210.5 303.5 1210.1 305.9 1209.6 308.4 1209.1 310.9 1208.6 313.3 1208.1 315.8 1207.6 318.3 1207.1 320.7 1206.6 323.2 1206.1 325.7 1205.6 328.1 1205.1 330.6 1204.6 333.0 1204.1 335.5 1203.6 338.0 1203.1 340.4 1202.5 342.9 1202.0 345.3 1201.5 347.8 1200.9 350.3 1200.4 352.7 1199.9 355.2 1199.3 357.6 1198.8 360.1 1198.2 362.5 1197.7 365.0 1197.1 367.4 1196.5 369.9 1196.0 372.3 1195.4 374.8 1194.8 377.2 1194.2 379.7 1193.6 382.1 1193.0 384.6 1192.4 387.0 1191.8 389.5 1191.2 391.9 1190.6 394.3 1190.0 396.8 1189.4 399.2 1188.8 401.7 1188.1 404.1 1187.5 406.5 1186.9 408.9 1186.2 411.4 1185.6 413.8 1184.9 416.2 1184.3 418.7 1183.6 421.1 1182.9 423.5 1182.2 425.9 1181.6 428.3 1180.9 430.8 1180.2 433.2 1179.5 435.6 1178.8 438.0 1178.1 440.4 1177.4 442.8 1176.7 445.2 1175.9 447.6 1175.2 450.0 1174.5 452.4 1173.7 454.8 1173.0 457.2 1172.2 459.6 1171.5 462.0 1170.7 464.4 1170.0 466.8 1169.2 469.2 1168.4 471.6 1167.6 473.9 1166.8 476.3 1166.0 478.7 1165.2 481.1 1164.4 483.4 1163.6 485.8 1162.8 488.2 1161.9 490.5 1161.1 492.9 1160.2 495.3 1159.4 497.6 1158.5 500.0 1157.7 502.3 1156.8 504.7 1155.9 507.0 1155.0 509.3 1154.2 511.7 1153.3 514.0 1152.3 516.4 1151.4 518.7 1150.5 521.0 1149.6 523.3 1148.7 525.7 1147.7 528.0 1146.8 530.3 1145.8 532.6 1144.9 534.9 1143.9 537.2 1142.9 539.5 1141.9 541.8 1140.9 544.1 1139.9 546.4 1138.9 548.7 1137.9 551.0 1136.9 553.3 1135.9 555.5 1134.8 557.8 1133.8 560.1 1132.7 562.4 1131.7 564.6 1130.6 566.9 1129.5 569.1 1128.5 571.4 1127.4 573.7 1126.3 575.9 1125.2 578.1 1124.0 580.4 1122.9 582.6 1121.8 584.8 1120.6 587.1 1119.5 589.3 1118.3 591.5 1117.2 593.7 1116.0 595.9 1114.8 598.2 1113.6 600.4 1112.4 602.6 1111.2 604.8 1110.0 607.0 1108.8 609.2 1107.6 611.4 1106.4 613.6 1105.2 615.7 1103.9 617.9 1102.7 620.1 1101.4 622.3 1100.2 624.5 1098.9 626.6 1097.7 628.8 1096.4 631.0 1095.2 633.2 1093.9 635.3 1092.6 637.5 1091.3 639.7 1090.1 641.8 1088.8 644.0 1087.5 646.2 1086.2 648.3 1084.9 650.5 1083.7 652.7 1082.4 654.8 1081.1 657.0 1079.8 659.2 1078.5 661.3 1077.2 663.5 1075.9 665.6 1074.6 667.8 1073.3 670.0 1072.0 672.1 1070.7 674.3 1069.5 676.4 1068.2 678.6 1066.9 680.8 1065.6 682.9 1064.3 685.1 1063.0 687.2 1061.7 689.4 1060.5 691.6 1059.2 693.7 1057.9 695.9 1056.6 698.1 1055.4 700.3 1054.1 702.4 1052.8 704.6 1051.6 706.8 1050.3 709.0 1049.1 711.1 1047.8 713.3 1046.6 715.5 1045.3 717.7 1044.1 719.9 1042.9 722.1 1041.7 724.3 1040.4 726.5 1039.2 728.7 1038.0 730.9 1036.8 733.1 1035.6 735.3 1034.5 737.5 1033.3 739.7 1032.1 741.9 1030.9 744.1 1029.8 746.4 1028.6 748.6 1027.5 750.8 1026.4 753.0 1025.2 755.3 1024.1 757.5 1023.0 759.8 1021.9 762.0 1020.8 764.3 1019.8 766.5 1018.7 768.8 1017.6 771.1 1016.6 773.3 1015.6 775.6 1014.5 777.9 1013.5 780.2 1012.5 782.5 1011.5 784.8 1010.5 787.1 1009.5 789.4 1008.5 791.7 1007.5 794.0 1006.6 796.3 1005.6 798.6 1004.7 800.9 1003.7 803.2 1002.8 805.5 1001.9 807.9 1000.9 810.2 1000.0 812.5 999.1 814.9 998.2 817.2 997.3 819.5 996.4 821.9 995.5 824.2 994.7 826.6 993.8 828.9 992.9 831.3 992.1 833.6 991.2 836.0 990.4 838.3 989.5 840.7 988.7 843.1 987.9 845.4 987.0 847.8 986.2 850.2 985.4 852.6 984.6 854.9 983.8 857.3 983.0 859.7 982.2 862.1 981.4 864.4 980.6 866.8 979.8 869.2 979.0 871.6 978.2 874.0 977.5 876.4 976.7 878.8 975.9 881.2 975.1 883.5 974.4 885.9 973.6 888.3 972.9 890.7 972.1 893.1 971.4 895.5 970.6 897.9 969.9 900.3 969.1 902.7 968.4 905.1 967.6 907.5 966.9 909.9 966.1 912.3 965.4 914.7 964.7 917.1 963.9 919.6 963.2 922.0 962.5 924.4 961.7 926.8 961.0 929.2 960.3 931.6 959.5 934.0 958.8 936.4 958.1 938.8 957.3 941.2 956.6 943.6 955.9 946.0 955.1 948.4 954.4 950.8 953.7 953.2 952.9 955.6 952.2 958.0 951.5 960.4 950.7 962.8 950.0 965.2 949.3 967.6 948.5 970.0 947.8 972.4 947.0 974.8 946.3 977.2 945.5 979.6 944.8 982.0 944.0 984.4 943.3 986.8 942.5 989.1 941.8 991.5 941.0 993.9 940.3 996.3 939.5 998.7 938.7 1001.1 937.9 1003.4 937.2 1005.8 936.4 1008.2 935.6 1010.6 934.8 1012.9 934.0 1015.3 933.2 1017.7 932.4 1020.0 931.6 1022.4 930.8 1024.8 930.0 1027.1 929.2 1029.5 928.3 1031.8 927.5 1034.2 926.6 1036.5 925.8 1038.8 924.9 1041.2 924.1 1043.5 923.2 1045.8 922.3 1048.2 921.4 1050.5 920.5 1052.8 919.6 1055.1 918.7 1057.4 917.7 1059.8 916.8 1062.1 915.8 1064.4 914.9 1066.6 913.9 1068.9 912.9 1071.2 911.9 1073.5 910.9 1075.8 909.8 1078.1 908.8 1080.3 907.8 1082.6 906.7 1084.8 905.6 1087.1 904.5 1089.3 903.4 1091.6 902.3 1093.8 901.2 1096.1 900.1 1098.3 899.0 1100.6 897.8 1102.8 896.7 1105.0 895.6 1107.3 894.4 1109.5 893.2 1111.7 892.1 1113.9 890.9 1116.2 889.8 1118.4 888.6 1120.6 887.4 1122.8 886.3 1125.1 885.1 1127.3 883.9 1129.5 882.7 1131.8 881.6 1134.0 880.4 1136.2 879.2 1138.5 878.1 1140.7 876.9 1142.9 875.8 1145.2 874.7 1147.4 873.5 1149.7 872.4 1151.9 871.3 1154.2 870.2 1156.4 869.1 1158.7 868.0 1161.0 866.9 1163.2 865.9 1165.5 864.8 1167.8 863.8 1170.1 862.8 1172.4 861.8 1174.7 860.8 1177.0 859.8 1179.4 858.9 1181.7 857.9 1184.0 857.0 1186.4 856.1 1188.7 855.2 1191.1 854.4 1193.1 852.5 1195.1 850.6 1197.1 848.5 1199.0 846.5 1201.0 844.5 1202.9 842.5 1204.9 840.6 1207.0 838.7 1209.2 837.0 1211.5 835.5 1214.0 834.1 1216.5 833.4 1218.9 832.7 1221.4 832.0 1223.9 831.4 1226.4 830.9 1228.9 830.4 1231.4 829.9 1234.0 829.5 1236.5 829.2 1239.0 828.9 1241.5 828.6 1244.1 828.4 1246.6 828.3 1249.1 828.2 1251.6 828.2 1254.1 828.2 1256.6 828.3 1259.1 828.5 1261.6 828.7 1264.1 828.9 1266.5 829.3 1269.0 829.6 1271.4 830.1 1273.8 830.6 1276.2 831.2 1278.5 831.8 1280.9 832.5 1283.2 833.3 1285.5 834.1 1287.8 835.0 1290.1 835.9 1292.3 836.9 1294.5 837.9 1296.7 839.0 1298.9 840.2 1301.0 841.4 1303.2 842.6 1305.3 843.9 1307.4 845.2 1309.4 846.6 1311.5 848.0 1313.5 849.5 1315.5 851.0 1317.5 852.5 1319.4 854.1 1321.4 855.7 1323.3 857.4 1325.2 859.0 1327.0 860.8 1328.9 862.5 1330.7 864.3 1332.5 866.0 1334.3 867.9 1336.0 869.7 1337.7 871.5 1339.4 873.4 1341.1 875.3 1342.8 877.2 1344.4 879.2 1346.0 881.1 1347.6 883.1 1349.2 885.1 1350.8 887.1 1352.3 889.1 1353.8 891.2 1355.3 893.2 1356.8 895.3 1358.2 897.4 1359.7 899.4 1361.1 901.5 1362.5 903.7 1363.9 905.8 1365.2 907.9 1366.6 910.0 1367.9 912.2 1369.2 914.3 1370.5 916.5 1371.8 918.7 1373.1 920.8 1374.3 923.0 1375.6 925.2 1376.8 927.4 1378.0 929.6 1379.2 931.7 1380.4 933.9 1381.6 936.1 1382.7 938.3 1383.9 940.6 1385.0 942.8 1386.2 945.0 1387.3 947.2 1388.4 949.4 1389.5 951.7 1390.6 953.9 1391.7 956.1 1392.8 958.4 1393.9 960.6 1395.0 962.9 1396.1 965.1 1397.1 967.4 1398.2 969.6 1399.3 971.9 1400.3 974.1 1401.4 976.4 1402.5 978.6 1403.5 980.9 1404.6 983.2 1405.6 985.4 1406.7 987.7 1407.7 990.0 1408.8 992.3 1409.8 994.5 1410.9 996.8 1411.9 999.1 1413.0 1001.4 1414.1 1003.6 1415.1 1005.9 1416.2 1008.2 1417.2 1010.4 1418.3 1012.7 1419.4 1015.0 1420.5 1017.3 1421.5 1019.5 1422.6 1021.8 1423.7 1024.1 1424.8 1026.3 1425.9 1028.6 1427.0 1030.8 1428.1 1033.1 1429.2 1035.3 1430.3 1037.6 1431.4 1039.8 1432.6 1042.1 1433.7 1044.3 1434.8 1046.6 1436.0 1048.8 1437.1 1051.0 1438.3 1053.2 1439.5 1055.5 1440.7 1057.7 1441.9 1059.9 1443.1 1062.1 1444.3 1064.3 1445.5 1066.5 1446.7 1068.7 1448.0 1070.8 1449.2 1073.0 1450.5 1075.2 1451.8 1077.3 1453.0 1079.5 1454.3 1081.7 1455.6 1083.8 1456.9 1085.9 1458.3 1088.1 1459.6 1090.2 1460.9 1092.3 1462.3 1094.4 1463.6 1096.6 1465.0 1098.7 1466.4 1100.8 1467.8 1102.9 1469.1 1104.9 1470.6 1107.0 1472.0 1109.1 1473.4 1111.2 1474.8 1113.2 1476.3 1115.3 1477.7 1117.3 1479.2 1119.4 1480.6 1121.4 1482.1 1123.4 1483.6 1125.5 1485.1 1127.5 1486.6 1129.5 1488.1 1131.5 1489.7 1133.5 1491.2 1135.5 1492.8 1137.5 1494.3 1139.4 1495.9 1141.4 1497.4 1143.4 1499.0 1145.3 1500.6 1147.3 1502.2 1149.2 1503.8 1151.2 1505.5 1153.1 1507.1 1155.0 1508.7 1156.9 1510.4 1158.8 1512.0 1160.7 1513.7 1162.6 1515.4 1164.5 1517.0 1166.4 1518.7 1168.2 1520.4 1170.1 1522.2 1172.0 1523.9 1173.8 1525.6 1175.7 1527.3 1177.5 1529.1 1179.3 1530.8 1181.1 1532.6 1182.9 1534.4 1184.7 1536.2 1186.5 1538.0 1188.3 1539.8 1190.1 1541.6 1191.9 1543.4 1193.6 1545.2 1195.4 1547.1 1197.1 1548.9 1198.8 1550.8 1200.6 1552.6 1202.3 1554.5 1203.9 1556.4 1205.6 1558.3 1207.3 1560.2 1208.9 1562.2 1210.5 1564.1 1212.1 1566.1 1213.7 1568.1 1215.2 1570.0 1216.8 1572.0 1218.3 1574.0 1219.8 1576.1 1221.2 1578.1 1222.6 1580.2 1224.1 1582.2 1225.4 1584.3 1226.8 1586.4 1228.1 1588.5 1229.4 1590.7 1230.7 1592.8 1231.9 1595.0 1233.1 1597.2 1234.3 1599.4 1235.4 1601.6 1236.6 1603.8 1237.6 1606.1 1238.7 1608.3 1239.7 1610.6 1240.7 1612.9 1241.7 1615.2 1242.6 1617.5 1243.5 1619.9 1244.4 1622.2 1245.3 1624.5 1246.1 1626.9 1246.9 1629.3 1247.7 1631.7 1248.5 1634.1 1249.2 1636.5 1250.0 1638.9 1250.7 1641.3 1251.3 1643.7 1252.0 1646.2 1252.6 1648.6 1253.2 1651.1 1253.8 1653.5 1254.4 1656.0 1254.9 1658.5 1255.5 1661.0 1256.0 1663.5 1256.5 1666.0 1257.0 1668.5 1257.5 1671.0 1257.9 1673.5 1258.3 1676.0 1258.8 1678.5 1259.2 1681.0 1259.6 1683.5 1259.9 1686.1 1260.3 1688.6 1260.7 1691.1 1261.0 1693.7 1261.3 1696.2 1261.7 1698.7 1262.0 1701.2 1262.3 1703.8 1262.6 1706.3 1262.8 1708.8 1263.1 1711.4 1263.4 1713.9 1263.6 1716.4 1263.9 1718.9 1264.1 1721.4 1264.4 1724.0 1264.6 1726.5 1264.8 1729.0 1265.1 1731.5 1265.3 1734.0 1265.5 1736.5 1265.7 1738.9 1265.9 1741.4 1266.1 1743.9 1266.3 1746.4 1266.5 1748.8 1266.8 1751.3 1267.0 1753.7 1267.2 1756.2 1267.4 1758.6 1267.6 1761.0 1267.8" stroke="#0000ff"/><path d="M233.5 1201.0 L237.0 1199.9 239.4 1199.1 241.8 1198.4 244.1 1197.6 246.5 1196.8 248.9 1196.1 251.3 1195.3 253.6 1194.5 256.0 1193.7 258.4 1192.9 260.8 1192.2 263.1 1191.4 265.5 1190.6 267.9 1189.8 270.2 1189.0 272.6 1188.2 275.0 1187.4 277.4 1186.5 279.7 1185.7 282.1 1184.9 284.5 1184.1 286.8 1183.3 289.2 1182.4 291.6 1181.6 294.0 1180.8 296.3 1180.0 298.7 1179.1 301.1 1178.3 303.4 1177.4 305.8 1176.6 308.2 1175.8 310.5 1174.9 312.9 1174.1 315.3 1173.2 317.6 1172.4 320.0 1171.5 322.4 1170.6 324.7 1169.8 327.1 1168.9 329.5 1168.1 331.8 1167.2 334.2 1166.3 336.5 1165.5 338.9 1164.6 341.3 1163.7 343.6 1162.9 346.0 1162.0 348.4 1161.1 350.7 1160.2 353.1 1159.4 355.4 1158.5 357.8 1157.6 360.2 1156.7 362.5 1155.8 364.9 1154.9 367.2 1154.1 369.6 1153.2 372.0 1152.3 374.3 1151.4 376.7 1150.5 379.0 1149.6 381.4 1148.7 383.7 1147.8 386.1 1147.0 388.5 1146.1 390.8 1145.2 393.2 1144.3 395.5 1143.4 397.9 1142.5 400.2 1141.6 402.6 1140.7 404.9 1139.8 407.3 1138.9 409.6 1138.0 412.0 1137.1 414.3 1136.2 416.7 1135.3 419.1 1134.4 421.4 1133.6 423.8 1132.7 426.1 1131.8 428.5 1130.9 430.8 1130.0 433.2 1129.1 435.5 1128.2 437.9 1127.3 440.2 1126.4 442.5 1125.5 444.9 1124.6 447.2 1123.7 449.6 1122.8 451.9 1121.9 454.3 1121.0 456.6 1120.1 458.9 1119.2 461.3 1118.3 463.6 1117.4 465.9 1116.5 468.3 1115.5 470.6 1114.6 472.9 1113.7 475.2 1112.7 477.5 1111.8 479.8 1110.8 482.1 1109.9 484.4 1108.9 486.7 1107.9 489.0 1106.9 491.3 1105.9 493.6 1104.9 495.9 1103.9 498.2 1102.9 500.4 1101.9 502.7 1100.9 505.0 1099.8 507.2 1098.8 509.5 1097.7 511.7 1096.6 513.9 1095.5 516.2 1094.4 518.4 1093.3 520.6 1092.2 522.8 1091.0 525.0 1089.9 527.2 1088.7 529.4 1087.6 531.6 1086.4 533.8 1085.2 535.9 1083.9 538.1 1082.7 540.3 1081.4 542.4 1080.2 544.5 1078.9 546.7 1077.6 548.8 1076.3 550.9 1074.9 553.0 1073.6 555.1 1072.2 557.2 1070.8 559.2 1069.4 561.3 1068.0 563.4 1066.6 565.4 1065.1 567.5 1063.7 569.5 1062.2 571.5 1060.7 573.6 1059.2 575.6 1057.7 577.6 1056.2 579.6 1054.7 581.6 1053.1 583.6 1051.6 585.6 1050.0 587.6 1048.5 589.6 1046.9 591.6 1045.3 593.5 1043.7 595.5 1042.1 597.5 1040.5 599.5 1038.9 601.4 1037.3 603.4 1035.7 605.4 1034.1 607.3 1032.5 609.3 1030.9 611.2 1029.2 613.2 1027.6 615.1 1026.0 617.1 1024.3 619.0 1022.7 621.0 1021.1 623.0 1019.5 624.9 1017.8 626.9 1016.2 628.8 1014.6 630.8 1013.0 632.7 1011.3 634.7 1009.7 636.7 1008.1 638.6 1006.5 640.6 1004.9 642.6 1003.3 644.5 1001.7 646.5 1000.1 648.5 998.6 650.5 997.0 652.5 995.4 654.4 993.9 656.4 992.3 658.4 990.8 660.4 989.3 662.5 987.8 664.5 986.3 666.5 984.8 668.5 983.3 670.6 981.9 672.6 980.4 674.6 979.0 676.7 977.6 678.8 976.2 680.8 974.8 682.9 973.4 685.0 972.0 687.1 970.7 689.2 969.4 691.3 968.1 693.4 966.8 695.5 965.5 697.7 964.3 699.8 963.1 702.0 961.8 704.1 960.7 706.3 959.5 708.5 958.4 710.7 957.2 712.9 956.1 715.1 955.1 717.4 954.0 719.6 953.0 721.9 952.0 724.1 951.0 726.4 950.1 728.7 949.1 731.0 948.2 733.3 947.4 735.7 946.5 738.0 945.7 740.3 944.9 742.7 944.1 745.1 943.4 747.4 942.7 749.8 942.0 752.2 941.3 754.6 940.7 757.0 940.1 759.4 939.5 761.8 939.0 764.3 938.4 766.7 937.9 769.2 937.5 771.6 937.0 774.1 936.6 776.5 936.2 779.0 935.9 781.4 935.5 783.9 935.2 786.4 935.0 788.9 934.7 791.4 934.5 793.8 934.3 796.3 934.2 798.8 934.0 801.3 933.9 803.8 933.8 806.3 933.8 808.8 933.7 811.3 933.7 813.8 933.7 816.3 933.8 818.9 933.8 821.4 933.9 823.9 934.0 826.4 934.1 828.9 934.2 831.4 934.3 833.9 934.5 836.4 934.7 838.9 934.9 841.4 935.1 843.9 935.3 846.4 935.5 848.9 935.8 851.4 936.1 853.9 936.3 856.5 936.6 859.0 936.9 861.5 937.2 864.0 937.5 866.5 937.8 869.0 938.2 871.5 938.5 874.0 938.8 876.5 939.2 879.0 939.5 881.5 939.9 884.0 940.2 886.5 940.6 889.0 940.9 891.5 941.3 894.0 941.6 896.5 942.0 899.0 942.4 901.5 942.7 904.0 943.1 906.5 943.4 909.0 943.7 911.5 944.1 914.0 944.4 916.5 944.7 919.1 945.0 921.6 945.3 924.1 945.6 926.6 945.9 929.1 946.2 931.6 946.4 934.1 946.7 936.6 946.9 939.1 947.2 941.6 947.4 944.1 947.6 946.6 947.8 949.1 947.9 951.6 948.1 954.1 948.2 956.6 948.3 959.1 948.5 961.6 948.6 964.1 948.7 966.7 948.7 969.2 948.8 971.7 948.9 974.2 948.9 976.7 948.9 979.2 949.0 981.7 949.0 984.2 949.0 986.7 949.0 989.2 949.0 991.7 949.0 994.2 949.0 996.7 948.9 999.2 948.9 1001.7 948.9 1004.3 948.8 1006.8 948.8 1009.3 948.7 1011.8 948.7 1014.3 948.6 1016.8 948.5 1019.3 948.5 1021.8 948.4 1024.3 948.3 1026.8 948.2 1029.3 948.2 1031.8 948.1 1034.3 948.0 1036.8 947.9 1039.3 947.8 1041.8 947.7 1044.3 947.7 1046.9 947.6 1049.4 947.5 1051.9 947.4 1054.4 947.4 1056.9 947.3 1059.4 947.2 1061.9 947.2 1064.4 947.1 1066.9 947.0 1069.4 947.0 1071.9 946.9 1074.4 946.9 1076.9 946.8 1079.4 946.8 1081.9 946.8 1084.4 946.8 1086.9 946.8 1089.4 946.8 1091.9 946.8 1094.4 946.8 1096.9 946.8 1099.4 946.8 1101.9 946.9 1104.4 946.9 1106.9 947.0 1109.4 947.1 1111.9 947.1 1114.4 947.2 1116.9 947.3 1119.4 947.5 1121.9 947.6 1124.4 947.7 1126.9 947.9 1129.3 948.1 1131.8 948.3 1134.3 948.5 1136.8 948.7 1139.3 948.9 1141.8 949.1 1144.3 949.4 1146.8 949.7 1149.3 950.0 1151.8 950.3 1154.3 950.6 1156.7 951.0 1159.2 951.4 1161.7 951.7 1164.2 952.1 1166.7 952.6 1169.2 953.0 1171.7 953.5 1174.1 954.0 1176.6 954.5 1179.1 955.0 1181.6 955.6 1184.1 956.1 1186.5 956.7 1189.0 957.4 1191.5 958.0 1212.0 951.0 1214.5 951.7 1216.9 952.3 1219.4 953.0 1221.8 953.8 1224.3 954.5 1226.7 955.3 1229.2 956.1 1231.6 956.9 1234.0 957.7 1236.4 958.5 1238.8 959.4 1241.2 960.3 1243.6 961.2 1246.0 962.1 1248.4 963.0 1250.7 964.0 1253.1 965.0 1255.4 966.0 1257.8 967.0 1260.1 968.0 1262.4 969.1 1264.8 970.1 1267.1 971.2 1269.4 972.3 1271.7 973.5 1274.0 974.6 1276.2 975.8 1278.5 976.9 1280.8 978.1 1283.0 979.4 1285.2 980.6 1287.5 981.8 1289.7 983.1 1291.9 984.4 1294.1 985.7 1296.3 987.0 1298.5 988.3 1300.7 989.7 1302.8 991.1 1305.0 992.5 1307.1 993.9 1309.2 995.3 1311.3 996.7 1313.4 998.2 1315.5 999.6 1317.6 1001.1 1319.7 1002.6 1321.8 1004.1 1323.8 1005.7 1325.8 1007.2 1327.9 1008.8 1329.9 1010.3 1331.9 1011.9 1333.9 1013.5 1335.8 1015.2 1337.8 1016.8 1339.8 1018.4 1341.7 1020.1 1343.6 1021.8 1345.5 1023.5 1347.4 1025.2 1349.3 1026.9 1351.2 1028.7 1353.0 1030.4 1354.9 1032.2 1356.7 1034.0 1358.5 1035.8 1360.3 1037.6 1362.1 1039.4 1363.9 1041.2 1365.7 1043.1 1367.4 1044.9 1369.1 1046.8 1370.8 1048.7 1372.5 1050.6 1374.2 1052.5 1375.9 1054.4 1377.5 1056.4 1379.2 1058.3 1380.8 1060.3 1382.4 1062.3 1384.0 1064.3 1385.6 1066.3 1387.1 1068.3 1388.7 1070.3 1390.2 1072.3 1391.7 1074.4 1393.2 1076.4 1394.7 1078.5 1407.9 1099.1 1409.2 1101.2 1410.6 1103.4 1411.9 1105.5 1413.3 1107.5 1414.8 1109.6 1416.2 1111.7 1417.7 1113.7 1419.2 1115.7 1420.7 1117.7 1422.2 1119.7 1423.8 1121.7 1425.3 1123.6 1426.9 1125.6 1428.5 1127.5 1430.2 1129.5 1431.8 1131.4 1433.4 1133.3 1435.1 1135.2 1436.8 1137.0 1438.5 1138.9 1440.2 1140.8 1441.9 1142.6 1443.6 1144.5 1445.4 1146.3 1447.1 1148.1 1448.9 1149.9 1450.6 1151.7 1452.4 1153.5 1454.2 1155.3 1456.0 1157.1 1457.8 1158.9 1459.6 1160.6 1461.4 1162.3 1463.3 1164.1 1465.1 1165.8 1467.0 1167.5 1468.9 1169.2 1470.7 1170.9 1472.6 1172.6 1474.5 1174.3 1476.4 1175.9 1478.4 1177.6 1480.3 1179.2 1482.2 1180.8 1484.2 1182.4 1486.1 1184.0 1488.1 1185.6 1490.1 1187.2 1492.1 1188.7 1494.1 1190.3 1496.1 1191.8 1498.1 1193.3 1500.1 1194.8 1502.2 1196.3 1504.2 1197.8 1506.3 1199.3 1508.3 1200.8 1510.4 1202.2 1512.5 1203.6 1514.6 1205.1 1516.6 1206.5 1518.7 1207.9 1520.9 1209.2 1523.0 1210.6 1525.1 1212.0 1527.2 1213.3 1529.4 1214.6 1531.5 1215.9 1533.7 1217.3 1535.9 1218.5 1538.0 1219.8 1540.2 1221.1 1542.4 1222.3 1544.6 1223.6 1546.8 1224.8 1549.0 1226.0 1551.2 1227.2 1553.5 1228.4 1555.7 1229.6 1557.9 1230.7 1560.2 1231.9 1562.4 1233.0 1564.7 1234.1 1566.9 1235.2 1569.2 1236.3 1571.5 1237.4 1573.8 1238.4 1576.0 1239.5 1578.3 1240.5 1580.6 1241.5 1582.9 1242.5 1585.2 1243.5 1587.6 1244.5 1589.9 1245.4 1592.2 1246.4 1594.5 1247.3 1596.9 1248.2 1599.2 1249.1 1601.6 1249.9 1604.0 1250.8 1606.3 1251.6 1608.7 1252.4 1611.1 1253.1 1613.5 1253.9 1615.9 1254.6 1618.3 1255.3 1620.7 1256.0 1623.1 1256.6 1625.6 1257.2 1628.0 1257.8 1630.4 1258.4 1632.9 1259.0 1635.3 1259.5 1637.8 1260.0 1640.3 1260.5 1642.7 1261.0 1645.2 1261.4 1647.7 1261.9 1650.2 1262.3 1652.7 1262.7 1655.2 1263.0 1657.7 1263.4 1660.2 1263.8 1662.7 1264.1 1665.2 1264.4 1667.7 1264.7 1670.2 1265.0 1672.7 1265.3 1675.2 1265.5 1677.8 1265.8 1680.3 1266.0 1682.8 1266.3 1685.3 1266.5 1687.9 1266.7 1690.4 1266.9 1692.9 1267.1 1695.5 1267.3 1698.0 1267.4 1700.5 1267.6 1703.1 1267.7 1705.6 1267.9 1708.1 1268.0 1710.7 1268.2 1713.2 1268.3 1715.7 1268.4 1718.3 1268.6 1720.8 1268.7 1723.3 1268.8 1725.8 1268.9 1728.4 1269.1 1730.9 1269.2 1733.4 1269.3 1735.9 1269.4 1738.5 1269.5 1741.0 1269.6 1743.5 1269.8 1746.0 1269.9 1748.5 1270.0 1751.0 1270.1 1753.5 1270.3 1756.0 1270.4 1758.5 1270.6 1761.0 1270.7" stroke="#ff00ff"/><path d="M233.5 1175.6 L237.0 1174.0 239.3 1173.0 241.6 1172.0 243.9 1170.9 246.2 1169.9 248.5 1168.9 250.8 1167.9 253.1 1166.8 255.4 1165.8 257.7 1164.8 259.9 1163.7 262.2 1162.7 264.5 1161.7 266.8 1160.6 269.1 1159.6 271.4 1158.5 273.6 1157.5 275.9 1156.4 278.2 1155.4 280.5 1154.3 282.8 1153.3 285.0 1152.2 287.3 1151.2 289.6 1150.1 291.8 1149.1 294.1 1148.0 296.4 1146.9 298.7 1145.9 300.9 1144.8 303.2 1143.7 305.5 1142.7 307.7 1141.6 310.0 1140.5 312.2 1139.5 314.5 1138.4 316.8 1137.3 319.0 1136.2 321.3 1135.1 323.5 1134.0 325.8 1133.0 328.0 1131.9 330.3 1130.8 332.5 1129.7 334.8 1128.6 337.0 1127.5 339.3 1126.4 341.5 1125.3 343.8 1124.2 346.0 1123.1 348.3 1122.0 350.5 1120.9 352.8 1119.8 355.0 1118.7 357.2 1117.5 359.5 1116.4 361.7 1115.3 364.0 1114.2 366.2 1113.1 368.4 1111.9 370.7 1110.8 372.9 1109.7 375.1 1108.5 377.4 1107.4 379.6 1106.3 381.8 1105.1 384.1 1104.0 386.3 1102.9 388.5 1101.7 390.7 1100.6 393.0 1099.4 395.2 1098.3 397.4 1097.1 399.7 1096.0 401.9 1094.8 404.1 1093.6 406.3 1092.5 408.5 1091.3 410.8 1090.1 413.0 1089.0 415.2 1087.8 417.4 1086.6 419.6 1085.4 421.9 1084.3 424.1 1083.1 426.3 1081.9 428.5 1080.7 430.7 1079.5 432.9 1078.3 435.2 1077.1 437.4 1076.0 439.6 1074.8 441.8 1073.6 444.0 1072.4 446.2 1071.1 448.4 1069.9 450.6 1068.7 452.8 1067.5 455.0 1066.3 457.3 1065.1 459.5 1063.8 461.7 1062.6 463.9 1061.4 466.0 1060.1 468.2 1058.9 470.4 1057.7 472.6 1056.4 474.8 1055.1 477.0 1053.9 479.1 1052.6 481.3 1051.3 483.5 1050.0 485.6 1048.7 487.8 1047.4 489.9 1046.1 492.1 1044.8 494.2 1043.5 496.3 1042.2 498.4 1040.8 500.6 1039.5 502.7 1038.1 504.8 1036.7 506.9 1035.4 509.0 1034.0 511.0 1032.6 513.1 1031.2 515.2 1029.8 517.2 1028.3 519.3 1026.9 521.3 1025.5 523.3 1024.0 525.4 1022.5 527.4 1021.0 529.4 1019.5 531.3 1018.0 533.3 1016.5 535.3 1015.0 537.2 1013.4 539.2 1011.9 541.1 1010.3 543.0 1008.7 544.9 1007.1 546.8 1005.5 548.7 1003.9 550.6 1002.2 552.5 1000.6 554.3 998.9 556.1 997.2 558.0 995.5 559.8 993.8 561.6 992.0 563.3 990.3 565.1 988.5 566.9 986.7 568.6 984.9 570.3 983.1 572.1 981.3 573.8 979.5 575.5 977.6 577.2 975.8 578.9 973.9 580.5 972.0 582.2 970.2 583.9 968.3 585.5 966.4 587.2 964.5 588.9 962.6 590.5 960.7 592.2 958.8 593.8 956.9 595.5 955.0 597.1 953.1 598.8 951.2 600.4 949.3 602.1 947.4 603.8 945.5 605.4 943.7 607.1 941.8 608.8 939.9 610.4 938.0 612.1 936.2 613.8 934.3 615.5 932.5 617.2 930.6 618.9 928.8 620.6 927.0 622.4 925.2 624.1 923.4 625.9 921.6 627.6 919.8 629.4 918.1 631.2 916.3 633.0 914.6 634.8 912.9 636.7 911.2 638.5 909.5 640.4 907.9 642.3 906.3 644.2 904.7 646.1 903.1 648.0 901.5 650.0 900.0 652.0 898.5 654.0 897.0 656.0 895.5 658.0 894.0 660.1 892.6 662.1 891.2 664.2 889.8 666.3 888.4 668.4 887.0 670.6 885.7 672.7 884.3 674.8 883.0 677.0 881.7 679.2 880.4 681.4 879.2 683.6 877.9 685.8 876.7 688.0 875.4 690.2 874.2 692.5 873.0 694.7 871.8 697.0 870.6 699.3 869.4 701.6 868.3 703.8 867.1 706.1 866.0 708.4 865.0 710.8 864.0 713.1 863.0 715.4 862.1 717.8 861.3 720.1 860.5 722.5 859.8 724.9 859.2 727.3 858.7 729.7 858.3 732.1 858.0 734.5 857.7 736.9 857.6 739.3 857.6 741.7 857.6 744.1 857.8 746.5 858.0 748.9 858.4 751.3 858.9 753.7 859.5 756.0 860.2 758.3 860.9 760.6 861.8 762.9 862.7 765.2 863.8 767.4 864.9 769.6 866.0 771.8 867.3 774.0 868.5 776.1 869.9 778.1 871.3 780.2 872.7 782.2 874.2 784.2 875.7 786.1 877.2 788.1 878.8 790.0 880.4 791.8 882.1 793.7 883.8 795.5 885.5 797.3 887.3 799.1 889.0 800.9 890.8 802.7 892.7 804.4 894.5 806.2 896.3 807.9 898.2 809.6 900.1 811.3 902.0 813.0 903.9 814.7 905.8 816.4 907.7 818.1 909.6 819.8 911.5 821.5 913.4 823.2 915.2 824.9 917.1 826.6 919.0 828.3 920.9 830.0 922.7 831.8 924.5 833.5 926.3 835.2 928.2 837.0 930.0 838.7 931.7 840.5 933.5 842.3 935.3 844.0 937.0 845.8 938.8 847.6 940.5 849.4 942.3 851.2 944.0 853.0 945.7 854.7 947.4 856.6 949.2 858.4 950.9 860.2 952.6 862.0 954.3 863.8 956.0 865.6 957.7 867.5 959.4 869.3 961.1 871.1 962.8 872.9 964.5 874.8 966.2 876.6 967.9 878.5 969.6 880.3 971.3 882.2 973.0 884.0 974.7 885.9 976.3 887.7 978.0 889.6 979.7 891.5 981.4 893.3 983.1 895.2 984.8 897.1 986.4 899.0 988.1 900.9 989.7 902.7 991.4 904.6 993.0 906.6 994.7 908.5 996.3 910.4 998.0 912.3 999.6 914.2 1001.2 916.1 1002.8 918.1 1004.4 920.0 1006.0 922.0 1007.6 923.9 1009.2 925.9 1010.7 927.9 1012.3 929.8 1013.8 931.8 1015.4 933.8 1016.9 935.8 1018.4 937.8 1019.9 939.8 1021.4 941.8 1022.9 943.8 1024.4 945.9 1025.9 947.9 1027.3 949.9 1028.7 952.0 1030.2 954.1 1031.6 956.1 1033.0 958.2 1034.3 960.3 1035.7 962.4 1037.1 964.5 1038.4 966.6 1039.7 968.7 1041.0 970.8 1042.3 973.0 1043.6 975.1 1044.9 977.3 1046.1 979.4 1047.3 981.6 1048.5 983.8 1049.7 986.0 1050.9 988.2 1052.1 990.4 1053.2 992.6 1054.3 994.8 1055.5 997.1 1056.6 999.3 1057.6 1001.5 1058.7 1003.8 1059.8 1006.1 1060.8 1008.3 1061.9 1010.6 1062.9 1012.9 1063.9 1015.2 1064.9 1017.5 1065.9 1019.8 1066.8 1022.1 1067.8 1024.4 1068.8 1026.7 1069.7 1029.0 1070.6 1031.4 1071.6 1033.7 1072.5 1036.0 1073.4 1038.4 1074.3 1040.7 1075.2 1043.1 1076.0 1045.4 1076.9 1047.8 1077.8 1050.2 1078.6 1052.5 1079.5 1054.9 1080.3 1057.3 1081.2 1059.6 1082.0 1062.0 1082.9 1064.4 1083.7 1066.8 1084.5 1069.2 1085.3 1071.6 1086.1 1073.9 1086.9 1076.3 1087.8 1078.7 1088.6 1081.1 1089.4 1083.5 1090.2 1085.9 1091.0 1088.3 1091.8 1090.7 1092.6 1093.1 1093.4 1095.5 1094.2 1097.9 1095.0 1100.3 1095.7 1102.7 1096.5 1105.1 1097.3 1107.5 1098.1 1109.9 1098.9 1112.3 1099.7 1114.6 1100.6 1117.0 1101.4 1119.4 1102.2 1121.8 1103.0 1124.2 1103.8 1126.6 1104.6 1129.0 1105.5 1131.3 1106.3 1133.7 1107.1 1136.1 1108.0 1138.4 1108.8 1140.8 1109.7 1143.2 1110.5 1145.5 1111.4 1147.9 1112.3 1150.2 1113.2 1152.5 1114.1 1154.9 1114.9 1157.2 1115.9 1159.5 1116.8 1161.9 1117.7 1164.2 1118.6 1166.5 1119.6 1168.8 1120.5 1171.1 1121.5 1173.4 1122.5 1175.7 1123.5 1178.0 1124.5 1180.2 1125.5 1182.5 1126.5 1184.8 1127.5 1187.0 1128.6 1189.3 1129.6 1191.5 1130.7 1212.3 1127.6 1214.6 1128.7 1216.9 1129.7 1219.3 1130.8 1221.6 1131.8 1223.9 1132.8 1226.3 1133.9 1228.6 1134.9 1230.9 1135.9 1233.3 1136.9 1235.6 1138.0 1238.0 1139.0 1240.3 1140.0 1242.6 1141.0 1245.0 1142.0 1247.3 1143.0 1249.7 1144.0 1252.0 1145.0 1254.4 1146.0 1256.8 1146.9 1259.1 1147.9 1261.5 1148.9 1263.8 1149.9 1266.2 1150.8 1268.6 1151.8 1270.9 1152.8 1273.3 1153.7 1275.7 1154.7 1278.0 1155.6 1280.4 1156.6 1282.8 1157.5 1285.1 1158.4 1287.5 1159.4 1289.9 1160.3 1292.3 1161.3 1294.6 1162.2 1297.0 1163.1 1299.4 1164.0 1301.8 1165.0 1304.2 1165.9 1306.5 1166.8 1308.9 1167.7 1311.3 1168.6 1313.7 1169.5 1316.1 1170.4 1318.5 1171.3 1320.9 1172.2 1323.2 1173.1 1325.6 1174.0 1328.0 1174.9 1330.4 1175.8 1332.8 1176.7 1335.2 1177.6 1337.6 1178.5 1340.0 1179.4 1342.4 1180.2 1344.8 1181.1 1347.2 1182.0 1349.6 1182.9 1352.0 1183.8 1354.4 1184.6 1356.8 1185.5 1359.2 1186.4 1361.6 1187.2 1364.0 1188.1 1366.4 1189.0 1368.8 1189.8 1371.2 1190.7 1373.6 1191.6 1376.0 1192.4 1378.4 1193.3 1380.8 1194.2 1383.2 1195.0 1385.6 1195.9 1388.0 1196.7 1390.4 1197.6 1392.8 1198.4 1395.2 1199.3 1416.0 1222.1 1418.4 1222.8 1420.8 1223.6 1423.2 1224.3 1425.7 1225.0 1428.1 1225.8 1430.5 1226.5 1432.9 1227.2 1435.3 1227.9 1437.8 1228.6 1440.2 1229.3 1442.6 1230.0 1445.0 1230.7 1447.5 1231.4 1449.9 1232.1 1452.3 1232.8 1454.8 1233.5 1457.2 1234.1 1459.6 1234.8 1462.1 1235.5 1464.5 1236.1 1466.9 1236.8 1469.4 1237.4 1471.8 1238.1 1474.3 1238.7 1476.7 1239.3 1479.1 1240.0 1481.6 1240.6 1484.0 1241.2 1486.5 1241.8 1488.9 1242.4 1491.4 1243.1 1493.8 1243.7 1496.3 1244.3 1498.7 1244.8 1501.2 1245.4 1503.6 1246.0 1506.1 1246.6 1508.5 1247.2 1511.0 1247.7 1513.4 1248.3 1515.9 1248.8 1518.3 1249.4 1520.8 1249.9 1523.3 1250.5 1525.7 1251.0 1528.2 1251.5 1530.6 1252.0 1533.1 1252.6 1535.6 1253.1 1538.0 1253.6 1540.5 1254.1 1543.0 1254.6 1545.4 1255.0 1547.9 1255.5 1550.4 1256.0 1552.9 1256.5 1555.3 1256.9 1557.8 1257.4 1560.3 1257.9 1562.8 1258.3 1565.2 1258.7 1567.7 1259.2 1570.2 1259.6 1572.7 1260.0 1575.1 1260.4 1577.6 1260.9 1580.1 1261.3 1582.6 1261.7 1585.1 1262.0 1587.6 1262.4 1590.0 1262.8 1592.5 1263.2 1595.0 1263.6 1597.5 1263.9 1600.0 1264.3 1602.5 1264.6 1605.0 1265.0 1607.5 1265.3 1610.0 1265.6 1612.5 1265.9 1615.0 1266.3 1617.5 1266.6 1619.9 1266.9 1622.4 1267.2 1624.9 1267.5 1627.4 1267.7 1629.9 1268.0 1632.4 1268.3 1634.9 1268.5 1637.4 1268.8 1639.9 1269.1 1642.5 1269.3 1645.0 1269.5 1647.5 1269.8 1650.0 1270.0 1652.5 1270.2 1655.0 1270.4 1657.5 1270.6 1660.0 1270.8 1662.5 1271.0 1665.0 1271.2 1667.5 1271.3 1670.1 1271.5 1672.6 1271.6 1675.1 1271.8 1677.6 1271.9 1680.1 1272.1 1682.6 1272.2 1685.1 1272.3 1687.7 1272.4 1690.2 1272.5 1692.7 1272.6 1695.2 1272.7 1697.7 1272.8 1700.3 1272.9 1702.8 1273.0 1705.3 1273.0 1707.8 1273.1 1710.4 1273.1 1712.9 1273.2 1715.4 1273.2 1717.9 1273.2 1720.5 1273.2 1723.0 1273.2 1725.5 1273.2 1728.1 1273.2 1730.6 1273.2 1733.1 1273.2 1735.6 1273.2 1738.2 1273.1 1740.7 1273.1 1743.2 1273.0 1745.8 1273.0 1748.3 1272.9 1750.9 1272.8 1753.4 1272.7 1755.9 1272.6 1758.5 1272.5 1761.0 1272.4" stroke="#008000"/><path d="M233.5 1169.0 L237.0 1167.5 239.3 1166.5 241.7 1165.6 244.0 1164.6 246.3 1163.6 248.6 1162.6 250.9 1161.6 253.2 1160.6 255.5 1159.6 257.8 1158.6 260.1 1157.6 262.4 1156.6 264.7 1155.6 267.0 1154.6 269.3 1153.5 271.6 1152.5 273.9 1151.4 276.1 1150.4 278.4 1149.3 280.7 1148.3 283.0 1147.2 285.2 1146.2 287.5 1145.1 289.7 1144.0 292.0 1142.9 294.3 1141.8 296.5 1140.8 298.8 1139.7 301.0 1138.6 303.3 1137.5 305.5 1136.4 307.8 1135.3 310.0 1134.2 312.2 1133.0 314.5 1131.9 316.7 1130.8 319.0 1129.7 321.2 1128.6 323.4 1127.4 325.6 1126.3 327.9 1125.2 330.1 1124.0 332.3 1122.9 334.6 1121.7 336.8 1120.6 339.0 1119.4 341.2 1118.3 343.4 1117.1 345.7 1116.0 347.9 1114.8 350.1 1113.7 352.3 1112.5 354.5 1111.3 356.7 1110.2 358.9 1109.0 361.1 1107.8 363.4 1106.7 365.6 1105.5 367.8 1104.3 370.0 1103.1 372.2 1102.0 374.4 1100.8 376.6 1099.6 378.8 1098.4 381.0 1097.2 383.2 1096.1 385.4 1094.9 387.7 1093.7 389.9 1092.5 392.1 1091.3 394.3 1090.1 396.5 1089.0 398.7 1087.8 400.9 1086.6 403.1 1085.4 405.3 1084.2 407.5 1083.0 409.7 1081.8 411.9 1080.7 414.2 1079.5 416.4 1078.3 418.6 1077.1 420.8 1075.9 423.0 1074.7 425.2 1073.6 427.4 1072.4 429.7 1071.2 431.9 1070.0 434.1 1068.8 436.3 1067.7 438.5 1066.5 440.8 1065.3 443.0 1064.1 445.2 1063.0 447.4 1061.8 449.7 1060.6 451.9 1059.4 454.1 1058.3 456.3 1057.1 458.6 1055.9 460.8 1054.7 463.0 1053.6 465.2 1052.4 467.5 1051.2 469.7 1050.0 471.9 1048.8 474.1 1047.6 476.3 1046.4 478.5 1045.2 480.7 1044.0 482.9 1042.8 485.1 1041.6 487.3 1040.4 489.5 1039.1 491.7 1037.9 493.8 1036.6 496.0 1035.4 498.2 1034.1 500.3 1032.8 502.4 1031.5 504.6 1030.2 506.7 1028.9 508.8 1027.6 511.0 1026.3 513.1 1025.0 515.1 1023.6 517.2 1022.2 519.3 1020.9 521.4 1019.5 523.4 1018.1 525.5 1016.7 527.5 1015.2 529.5 1013.8 531.5 1012.3 533.5 1010.8 535.5 1009.3 537.5 1007.8 539.5 1006.3 541.4 1004.7 543.3 1003.2 545.3 1001.6 547.2 1000.0 549.0 998.4 550.9 996.7 552.8 995.1 554.6 993.4 556.5 991.7 558.3 990.0 560.1 988.3 561.9 986.5 563.6 984.7 565.4 983.0 567.2 981.2 568.9 979.4 570.7 977.5 572.4 975.7 574.1 973.9 575.8 972.0 577.5 970.2 579.2 968.3 580.9 966.4 582.6 964.5 584.3 962.6 586.0 960.7 587.7 958.8 589.3 956.9 591.0 955.0 592.7 953.1 594.3 951.2 596.0 949.3 597.7 947.4 599.3 945.4 601.0 943.5 602.7 941.6 604.3 939.7 606.0 937.8 607.7 935.9 609.4 934.0 611.1 932.1 612.7 930.2 614.4 928.3 616.1 926.4 617.8 924.5 619.6 922.7 621.3 920.8 623.0 919.0 624.7 917.1 626.5 915.3 628.2 913.5 630.0 911.7 631.8 909.9 633.6 908.1 635.4 906.4 637.2 904.6 639.0 902.9 640.9 901.2 642.7 899.5 644.6 897.8 646.5 896.2 648.4 894.5 650.3 892.9 652.3 891.3 654.2 889.8 656.2 888.2 658.2 886.7 660.2 885.2 662.2 883.7 664.3 882.3 666.4 880.9 668.5 879.5 670.6 878.1 672.7 876.8 674.9 875.5 677.1 874.2 679.3 873.0 681.5 871.8 683.7 870.6 686.0 869.5 688.3 868.5 690.5 867.4 692.8 866.5 695.2 865.6 697.5 864.7 699.8 863.9 702.1 863.2 704.5 862.5 706.8 861.9 709.2 861.4 711.6 860.9 713.9 860.5 716.3 860.2 718.7 860.0 721.0 859.8 723.4 859.7 725.8 859.7 728.1 859.8 730.5 860.0 732.8 860.3 735.2 860.7 737.5 861.1 739.8 861.7 742.2 862.3 744.5 863.1 746.8 863.9 749.0 864.8 751.3 865.8 753.6 866.8 755.8 867.9 758.0 869.1 760.2 870.3 762.4 871.6 764.6 872.9 766.7 874.2 768.8 875.7 770.9 877.1 773.0 878.6 775.0 880.1 777.0 881.6 779.0 883.2 781.0 884.8 782.9 886.4 784.8 888.1 786.7 889.7 788.6 891.4 790.5 893.1 792.3 894.8 794.1 896.6 795.9 898.4 797.6 900.2 799.4 902.0 801.1 903.8 802.8 905.6 804.5 907.5 806.2 909.4 807.8 911.3 809.5 913.2 811.1 915.1 812.7 917.0 814.3 919.0 815.9 920.9 817.5 922.9 819.0 924.9 820.6 926.9 822.1 928.9 823.7 930.9 825.2 932.9 826.7 934.9 828.2 937.0 829.7 939.0 831.2 941.0 832.7 943.1 834.2 945.2 835.7 947.2 837.2 949.3 838.7 951.4 840.1 953.4 841.6 955.5 843.1 957.6 844.5 959.7 846.0 961.8 847.4 963.9 848.9 966.0 850.3 968.1 851.8 970.2 853.2 972.3 854.7 974.4 856.1 976.5 857.5 978.6 859.0 980.7 860.4 982.8 861.9 984.9 863.3 987.0 864.7 989.1 866.2 991.2 867.6 993.3 869.1 995.4 870.5 997.5 872.0 999.5 873.4 1001.6 874.9 1003.7 876.3 1005.8 877.8 1007.8 879.3 1009.9 880.7 1012.0 882.2 1014.0 883.7 1016.1 885.2 1018.1 886.7 1020.1 888.2 1022.1 889.7 1024.2 891.2 1026.2 892.7 1028.2 894.2 1030.2 895.8 1032.1 897.3 1034.1 898.9 1036.1 900.4 1038.0 902.0 1040.0 903.6 1041.9 905.2 1043.8 906.8 1045.7 908.4 1047.6 910.0 1049.5 911.6 1051.4 913.2 1053.3 914.9 1055.1 916.5 1056.9 918.2 1058.8 919.9 1060.6 921.6 1062.4 923.3 1064.1 925.0 1065.9 926.8 1067.7 928.5 1069.4 930.3 1071.1 932.1 1072.8 933.9 1074.5 935.7 1076.1 937.5 1077.8 939.3 1079.4 941.2 1081.0 943.0 1082.6 944.9 1084.2 946.8 1085.8 948.7 1087.3 950.7 1088.8 952.6 1090.3 954.5 1091.8 956.5 1093.3 958.5 1094.8 960.5 1096.2 962.5 1097.7 964.5 1099.1 966.5 1100.5 968.6 1101.9 970.6 1103.3 972.7 1104.6 974.8 1106.0 976.8 1107.3 978.9 1108.6 981.0 1109.9 983.2 1111.2 985.3 1112.5 987.4 1113.8 989.6 1115.0 991.7 1116.2 993.9 1117.5 996.1 1118.7 998.3 1119.9 1000.5 1121.1 1002.7 1122.2 1004.9 1123.4 1007.1 1124.6 1009.3 1125.7 1011.6 1126.8 1013.8 1127.9 1016.1 1129.1 1018.4 1130.1 1020.6 1131.2 1022.9 1132.3 1025.2 1133.4 1027.5 1134.4 1029.8 1135.5 1032.1 1136.5 1034.4 1137.5 1036.7 1138.5 1039.1 1139.5 1041.4 1140.5 1043.7 1141.5 1046.1 1142.5 1048.4 1143.4 1050.8 1144.4 1053.1 1145.3 1055.5 1146.3 1057.8 1147.2 1060.2 1148.1 1062.6 1149.1 1065.0 1150.0 1067.3 1150.9 1069.7 1151.7 1072.1 1152.6 1074.5 1153.5 1076.9 1154.4 1079.3 1155.2 1081.7 1156.1 1084.1 1156.9 1086.5 1157.8 1088.9 1158.6 1091.3 1159.5 1093.7 1160.3 1096.1 1161.1 1098.5 1161.9 1101.0 1162.7 1103.4 1163.5 1105.8 1164.3 1108.2 1165.1 1110.6 1165.9 1113.0 1166.7 1115.4 1167.5 1117.9 1168.2 1120.3 1169.0 1122.7 1169.8 1125.1 1170.5 1127.5 1171.3 1129.9 1172.1 1132.3 1172.8 1134.7 1173.6 1137.1 1174.3 1139.5 1175.0 1141.9 1175.8 1144.3 1176.5 1146.7 1177.3 1149.1 1178.0 1151.5 1178.7 1153.9 1179.5 1156.3 1180.2 1158.7 1180.9 1161.0 1181.6 1163.4 1182.4 1165.8 1183.1 1168.1 1183.8 1170.5 1184.5 1172.9 1185.2 1175.2 1186.0 1177.6 1186.7 1179.9 1187.4 1182.2 1188.1 1184.6 1188.8 1186.9 1189.6 1189.2 1190.3 1191.5 1191.0 1212.3 1185.8 1214.7 1186.6 1217.1 1187.3 1219.6 1188.1 1222.0 1188.8 1224.4 1189.6 1226.9 1190.3 1229.3 1191.0 1231.7 1191.8 1234.2 1192.5 1236.6 1193.2 1239.0 1193.9 1241.5 1194.7 1243.9 1195.4 1246.3 1196.1 1248.8 1196.8 1251.2 1197.5 1253.7 1198.2 1256.1 1198.9 1258.6 1199.6 1261.0 1200.2 1263.5 1200.9 1265.9 1201.6 1268.4 1202.3 1270.8 1202.9 1273.3 1203.6 1275.7 1204.2 1278.2 1204.9 1280.6 1205.5 1283.1 1206.2 1285.6 1206.8 1288.0 1207.4 1290.5 1208.0 1293.0 1208.7 1295.4 1209.3 1297.9 1209.9 1300.4 1210.5 1302.8 1211.1 1305.3 1211.7 1307.8 1212.2 1310.3 1212.8 1312.7 1213.4 1315.2 1214.0 1317.7 1214.5 1320.2 1215.1 1322.7 1215.6 1325.1 1216.1 1327.6 1216.7 1330.1 1217.2 1332.6 1217.7 1335.1 1218.2 1337.6 1218.7 1340.1 1219.2 1342.6 1219.7 1345.1 1220.2 1347.5 1220.7 1350.0 1221.2 1352.5 1221.6 1355.0 1222.1 1357.5 1222.5 1360.0 1223.0 1362.5 1223.4 1365.0 1223.9 1367.6 1224.3 1370.1 1224.7 1372.6 1225.1 1375.1 1225.5 1377.6 1225.9 1380.1 1226.3 1382.6 1226.6 1385.1 1227.0 1387.6 1227.4 1390.2 1227.7 1392.7 1228.1 1395.2 1228.4 1416.0 1246.0 1418.5 1246.6 1420.9 1247.1 1423.4 1247.7 1425.9 1248.2 1428.4 1248.8 1430.9 1249.3 1433.3 1249.8 1435.8 1250.3 1438.3 1250.8 1440.8 1251.3 1443.3 1251.8 1445.8 1252.3 1448.2 1252.7 1450.7 1253.2 1453.2 1253.7 1455.7 1254.1 1458.2 1254.5 1460.7 1255.0 1463.2 1255.4 1465.7 1255.8 1468.2 1256.2 1470.7 1256.6 1473.2 1257.0 1475.7 1257.4 1478.2 1257.8 1480.7 1258.1 1483.2 1258.5 1485.7 1258.9 1488.2 1259.2 1490.7 1259.6 1493.2 1259.9 1495.7 1260.2 1498.2 1260.6 1500.7 1260.9 1503.2 1261.2 1505.7 1261.5 1508.2 1261.8 1510.7 1262.1 1513.3 1262.4 1515.8 1262.7 1518.3 1262.9 1520.8 1263.2 1523.3 1263.5 1525.8 1263.7 1528.3 1264.0 1530.9 1264.2 1533.4 1264.5 1535.9 1264.7 1538.4 1264.9 1540.9 1265.2 1543.5 1265.4 1546.0 1265.6 1548.5 1265.8 1551.0 1266.0 1553.5 1266.2 1556.1 1266.4 1558.6 1266.6 1561.1 1266.8 1563.6 1267.0 1566.2 1267.1 1568.7 1267.3 1571.2 1267.5 1573.7 1267.6 1576.3 1267.8 1578.8 1268.0 1581.3 1268.1 1583.9 1268.3 1586.4 1268.4 1588.9 1268.5 1591.4 1268.7 1594.0 1268.8 1596.5 1268.9 1599.0 1269.1 1601.6 1269.2 1604.1 1269.3 1606.6 1269.4 1609.2 1269.5 1611.7 1269.6 1614.2 1269.7 1616.8 1269.8 1619.3 1269.9 1621.8 1270.0 1624.3 1270.1 1626.9 1270.2 1629.4 1270.3 1631.9 1270.4 1634.5 1270.5 1637.0 1270.5 1639.5 1270.6 1642.1 1270.7 1644.6 1270.8 1647.1 1270.8 1649.7 1270.9 1652.2 1271.0 1654.7 1271.0 1657.3 1271.1 1659.8 1271.2 1662.4 1271.2 1664.9 1271.3 1667.4 1271.3 1670.0 1271.4 1672.5 1271.5 1675.0 1271.5 1677.6 1271.6 1680.1 1271.6 1682.6 1271.7 1685.2 1271.7 1687.7 1271.7 1690.2 1271.8 1692.7 1271.8 1695.3 1271.9 1697.8 1271.9 1700.3 1272.0 1702.9 1272.0 1705.4 1272.1 1707.9 1272.1 1710.5 1272.1 1713.0 1272.2 1715.5 1272.2 1718.1 1272.3 1720.6 1272.3 1723.1 1272.3 1725.6 1272.4 1728.2 1272.4 1730.7 1272.5 1733.2 1272.5 1735.8 1272.5 1738.3 1272.6 1740.8 1272.6 1743.3 1272.7 1745.9 1272.7 1748.4 1272.8 1750.9 1272.8 1753.4 1272.9 1756.0 1272.9 1758.5 1272.9 1761.0 1273.0" stroke="#000080"/><path d="M233.5 1179.8 L237.0 1178.5 239.4 1177.7 241.7 1176.8 244.1 1176.0 246.4 1175.1 248.7 1174.2 251.0 1173.3 253.4 1172.3 255.7 1171.4 258.0 1170.4 260.3 1169.4 262.6 1168.5 264.9 1167.5 267.2 1166.4 269.5 1165.4 271.8 1164.4 274.1 1163.3 276.4 1162.3 278.6 1161.2 280.9 1160.1 283.2 1159.1 285.4 1158.0 287.7 1156.9 290.0 1155.8 292.2 1154.7 294.5 1153.6 296.8 1152.5 299.0 1151.3 301.3 1150.2 303.5 1149.1 305.8 1148.0 308.1 1146.8 310.3 1145.7 312.6 1144.6 314.8 1143.4 317.1 1142.3 319.3 1141.2 321.6 1140.1 323.9 1138.9 326.1 1137.8 328.4 1136.7 330.6 1135.6 332.9 1134.5 335.2 1133.4 337.4 1132.3 339.7 1131.2 342.0 1130.2 344.2 1129.1 346.5 1128.0 348.8 1127.0 351.1 1125.9 353.4 1124.9 355.6 1123.9 357.9 1122.9 360.2 1121.9 362.5 1120.9 364.8 1119.9 367.2 1119.0 369.5 1118.0 371.8 1117.1 374.1 1116.2 376.4 1115.3 378.8 1114.4 381.1 1113.5 383.4 1112.6 385.8 1111.7 388.1 1110.9 390.4 1110.0 392.8 1109.2 395.1 1108.3 397.5 1107.5 399.8 1106.6 402.2 1105.8 404.5 1105.0 406.9 1104.1 409.2 1103.3 411.6 1102.5 414.0 1101.7 416.3 1100.8 418.7 1100.0 421.0 1099.1 423.4 1098.3 425.7 1097.5 428.1 1096.6 430.4 1095.7 432.8 1094.9 435.1 1094.0 437.5 1093.1 439.8 1092.2 442.2 1091.3 444.5 1090.4 446.8 1089.5 449.2 1088.6 451.5 1087.6 453.8 1086.7 456.2 1085.7 458.5 1084.7 460.8 1083.7 463.1 1082.7 465.4 1081.7 467.8 1080.7 470.1 1079.7 472.4 1078.6 474.6 1077.6 476.9 1076.5 479.2 1075.4 481.5 1074.3 483.8 1073.2 486.0 1072.1 488.3 1071.0 490.5 1069.8 492.8 1068.7 495.0 1067.5 497.3 1066.4 499.5 1065.2 501.7 1064.0 503.9 1062.8 506.1 1061.5 508.3 1060.3 510.5 1059.0 512.7 1057.8 514.9 1056.5 517.0 1055.2 519.2 1053.9 521.3 1052.6 523.4 1051.3 525.6 1049.9 527.7 1048.6 529.8 1047.2 531.9 1045.8 534.0 1044.4 536.0 1043.0 538.1 1041.6 540.2 1040.2 542.2 1038.7 544.2 1037.3 546.2 1035.8 548.3 1034.3 550.2 1032.8 552.2 1031.3 554.2 1029.8 556.2 1028.2 558.1 1026.7 560.0 1025.1 562.0 1023.5 563.9 1021.9 565.8 1020.3 567.7 1018.7 569.6 1017.1 571.5 1015.5 573.4 1013.8 575.2 1012.2 577.1 1010.5 579.0 1008.9 580.8 1007.2 582.7 1005.6 584.5 1003.9 586.4 1002.2 588.2 1000.5 590.1 998.8 591.9 997.1 593.8 995.4 595.6 993.7 597.5 992.0 599.3 990.3 601.1 988.6 603.0 986.9 604.8 985.2 606.7 983.5 608.5 981.8 610.4 980.1 612.2 978.4 614.1 976.7 616.0 975.0 617.8 973.3 619.7 971.7 621.6 970.0 623.5 968.3 625.4 966.6 627.3 965.0 629.2 963.3 631.2 961.7 633.1 960.0 635.0 958.4 637.0 956.8 639.0 955.1 640.9 953.5 642.9 951.9 644.9 950.3 646.9 948.8 649.0 947.2 651.0 945.6 653.1 944.1 655.1 942.6 657.2 941.1 659.3 939.7 661.4 938.2 663.5 936.9 665.7 935.5 667.8 934.2 670.0 932.9 672.2 931.7 674.4 930.6 676.6 929.4 678.8 928.4 681.1 927.4 683.3 926.5 685.6 925.6 687.9 924.8 690.2 924.1 692.5 923.5 694.8 922.9 697.2 922.5 699.6 922.1 701.9 921.8 704.3 921.6 706.7 921.5 709.2 921.5 711.6 921.6 714.1 921.9 716.5 922.2 719.0 922.6 721.5 923.0 724.0 923.6 726.4 924.3 728.9 925.0 731.3 925.7 733.7 926.6 736.1 927.5 738.5 928.5 740.9 929.5 743.2 930.5 745.5 931.6 747.7 932.7 749.9 933.9 752.1 935.1 754.2 936.4 756.4 937.6 758.5 939.0 760.5 940.3 762.5 941.7 764.5 943.2 766.5 944.6 768.5 946.1 770.4 947.7 772.3 949.2 774.2 950.8 776.0 952.4 777.8 954.1 779.6 955.8 781.4 957.5 783.1 959.2 784.9 961.0 786.6 962.8 788.3 964.6 789.9 966.4 791.6 968.3 793.2 970.2 794.8 972.1 796.4 974.0 798.0 976.0 799.6 977.9 801.1 979.9 802.7 981.9 804.2 983.9 805.7 986.0 807.2 988.0 808.6 990.1 810.1 992.2 811.5 994.3 813.0 996.4 814.4 998.5 815.8 1000.6 817.2 1002.7 818.6 1004.9 820.0 1007.0 821.4 1009.2 822.8 1011.4 824.2 1013.5 825.5 1015.7 826.9 1017.9 828.2 1020.1 829.6 1022.3 830.9 1024.5 832.3 1026.7 833.6 1028.9 835.0 1031.0 836.3 1033.2 837.6 1035.4 839.0 1037.6 840.3 1039.8 841.7 1042.0 843.0 1044.2 844.3 1046.3 845.7 1048.5 847.0 1050.6 848.4 1052.8 849.8 1054.9 851.1 1057.1 852.5 1059.2 853.8 1061.3 855.2 1063.4 856.6 1065.5 858.0 1067.6 859.4 1069.7 860.8 1071.8 862.2 1073.9 863.6 1076.0 865.0 1078.0 866.4 1080.1 867.8 1082.1 869.2 1084.2 870.7 1086.2 872.1 1088.2 873.6 1090.2 875.0 1092.2 876.5 1094.2 878.0 1096.2 879.5 1098.2 880.9 1100.2 882.4 1102.1 884.0 1104.1 885.5 1106.0 887.0 1108.0 888.5 1109.9 890.1 1111.8 891.7 1113.7 893.2 1115.6 894.8 1117.5 896.4 1119.4 898.0 1121.3 899.6 1123.1 901.3 1125.0 902.9 1126.8 904.6 1128.6 906.2 1130.5 907.9 1132.3 909.6 1134.1 911.3 1135.8 913.0 1137.6 914.8 1139.4 916.5 1141.1 918.3 1142.9 920.0 1144.6 921.8 1146.3 923.6 1148.0 925.5 1149.7 927.3 1151.4 929.2 1153.1 931.0 1154.7 932.9 1156.4 934.8 1158.0 936.7 1159.6 938.7 1161.2 940.6 1162.8 942.6 1164.4 944.5 1166.0 946.5 1167.6 948.5 1169.1 950.5 1170.6 952.5 1172.1 954.6 1173.6 956.6 1175.1 958.7 1176.6 960.8 1178.1 962.9 1179.5 965.0 1180.9 967.1 1182.3 969.2 1183.7 971.3 1185.1 973.5 1186.5 975.6 1187.8 977.8 1189.2 979.9 1190.5 982.1 1191.8 984.3 1193.1 986.5 1194.3 988.7 1195.6 991.0 1196.8 993.2 1198.0 995.4 1199.2 997.7 1200.4 999.9 1201.6 1002.2 1202.7 1004.5 1203.8 1006.7 1204.9 1009.0 1206.0 1011.3 1207.1 1013.6 1208.1 1015.9 1209.2 1018.2 1210.2 1020.6 1211.2 1022.9 1212.1 1025.2 1213.1 1027.6 1214.0 1029.9 1214.9 1032.2 1215.8 1034.6 1216.7 1037.0 1217.5 1039.3 1218.4 1041.7 1219.2 1044.1 1220.0 1046.4 1220.7 1048.8 1221.5 1051.2 1222.2 1053.6 1222.9 1056.0 1223.6 1058.4 1224.3 1060.8 1225.0 1063.2 1225.6 1065.6 1226.3 1068.0 1226.9 1070.4 1227.5 1072.9 1228.1 1075.3 1228.7 1077.7 1229.2 1080.1 1229.8 1082.6 1230.3 1085.0 1230.8 1087.5 1231.4 1089.9 1231.9 1092.3 1232.4 1094.8 1232.8 1097.2 1233.3 1099.7 1233.8 1102.2 1234.2 1104.6 1234.7 1107.1 1235.1 1109.5 1235.6 1112.0 1236.0 1114.5 1236.4 1116.9 1236.8 1119.4 1237.2 1121.9 1237.6 1124.4 1238.0 1126.8 1238.4 1129.3 1238.8 1131.8 1239.2 1134.3 1239.5 1136.8 1239.9 1139.2 1240.3 1141.7 1240.6 1144.2 1241.0 1146.7 1241.4 1149.2 1241.7 1151.7 1242.1 1154.2 1242.4 1156.7 1242.8 1159.1 1243.2 1161.6 1243.5 1164.1 1243.9 1166.6 1244.3 1169.1 1244.6 1171.6 1245.0 1174.1 1245.4 1176.6 1245.7 1179.1 1246.1 1181.6 1246.5 1184.0 1246.9 1186.5 1247.3 1189.0 1247.7 1191.5 1248.1 1212.3 1238.8 1214.8 1239.1 1217.4 1239.4 1219.9 1239.7 1222.4 1239.9 1224.9 1240.2 1227.5 1240.4 1230.0 1240.7 1232.5 1240.9 1235.1 1241.2 1237.6 1241.4 1240.1 1241.6 1242.7 1241.8 1245.2 1242.0 1247.8 1242.2 1250.3 1242.3 1252.8 1242.5 1255.4 1242.7 1257.9 1242.9 1260.4 1243.0 1263.0 1243.2 1265.5 1243.3 1268.1 1243.4 1270.6 1243.6 1273.1 1243.7 1275.7 1243.8 1278.2 1243.9 1280.8 1244.0 1283.3 1244.2 1285.9 1244.3 1288.4 1244.4 1290.9 1244.4 1293.5 1244.5 1296.0 1244.6 1298.6 1244.7 1301.1 1244.8 1303.7 1244.9 1306.2 1245.0 1308.7 1245.0 1311.3 1245.1 1313.8 1245.2 1316.4 1245.2 1318.9 1245.3 1321.5 1245.4 1324.0 1245.4 1326.6 1245.5 1329.1 1245.6 1331.6 1245.6 1334.2 1245.7 1336.7 1245.7 1339.3 1245.8 1341.8 1245.9 1344.4 1245.9 1346.9 1246.0 1349.5 1246.0 1352.0 1246.1 1354.5 1246.2 1357.1 1246.2 1359.6 1246.3 1362.2 1246.4 1364.7 1246.4 1367.3 1246.5 1369.8 1246.6 1372.3 1246.7 1374.9 1246.7 1377.4 1246.8 1380.0 1246.9 1382.5 1247.0 1385.0 1247.1 1387.6 1247.2 1390.1 1247.3 1392.7 1247.4 1395.2 1247.5 1416.0 1263.0 1418.5 1263.2 1421.0 1263.4 1423.5 1263.6 1426.0 1263.8 1428.6 1264.0 1431.1 1264.2 1433.6 1264.4 1436.1 1264.6 1438.6 1264.8 1441.1 1265.0 1443.6 1265.2 1446.2 1265.4 1448.7 1265.6 1451.2 1265.8 1453.7 1265.9 1456.2 1266.1 1458.7 1266.3 1461.2 1266.5 1463.8 1266.7 1466.3 1266.8 1468.8 1267.0 1471.3 1267.2 1473.8 1267.3 1476.3 1267.5 1478.8 1267.6 1481.4 1267.8 1483.9 1268.0 1486.4 1268.1 1488.9 1268.3 1491.4 1268.4 1493.9 1268.6 1496.5 1268.7 1499.0 1268.8 1501.5 1269.0 1504.0 1269.1 1506.5 1269.3 1509.0 1269.4 1511.6 1269.5 1514.1 1269.7 1516.6 1269.8 1519.1 1269.9 1521.6 1270.1 1524.1 1270.2 1526.7 1270.3 1529.2 1270.4 1531.7 1270.6 1534.2 1270.7 1536.7 1270.8 1539.3 1270.9 1541.8 1271.0 1544.3 1271.1 1546.8 1271.3 1549.3 1271.4 1551.8 1271.5 1554.4 1271.6 1556.9 1271.7 1559.4 1271.8 1561.9 1271.9 1564.4 1272.0 1567.0 1272.1 1569.5 1272.2 1572.0 1272.3 1574.5 1272.4 1577.0 1272.5 1579.6 1272.6 1582.1 1272.6 1584.6 1272.7 1587.1 1272.8 1589.6 1272.9 1592.1 1273.0 1594.7 1273.1 1597.2 1273.2 1599.7 1273.2 1602.2 1273.3 1604.7 1273.4 1607.3 1273.5 1609.8 1273.6 1612.3 1273.6 1614.8 1273.7 1617.3 1273.8 1619.9 1273.8 1622.4 1273.9 1624.9 1274.0 1627.4 1274.1 1629.9 1274.1 1632.5 1274.2 1635.0 1274.3 1637.5 1274.3 1640.0 1274.4 1642.5 1274.4 1645.1 1274.5 1647.6 1274.6 1650.1 1274.6 1652.6 1274.7 1655.1 1274.7 1657.7 1274.8 1660.2 1274.9 1662.7 1274.9 1665.2 1275.0 1667.8 1275.0 1670.3 1275.1 1672.8 1275.1 1675.3 1275.2 1677.8 1275.2 1680.4 1275.3 1682.9 1275.3 1685.4 1275.4 1687.9 1275.4 1690.4 1275.4 1693.0 1275.5 1695.5 1275.5 1698.0 1275.6 1700.5 1275.6 1703.0 1275.7 1705.6 1275.7 1708.1 1275.7 1710.6 1275.8 1713.1 1275.8 1715.6 1275.9 1718.2 1275.9 1720.7 1275.9 1723.2 1276.0 1725.7 1276.0 1728.2 1276.1 1730.8 1276.1 1733.3 1276.1 1735.8 1276.2 1738.3 1276.2 1740.8 1276.2 1743.4 1276.3 1745.9 1276.3 1748.4 1276.3 1750.9 1276.4 1753.4 1276.4 1756.0 1276.4 1758.5 1276.5 1761.0 1276.5" stroke="#8000ff"/><path d="M233.5 1172.5 L237.0 1171.0 239.3 1170.0 241.6 1169.0 243.9 1168.0 246.2 1167.0 248.5 1166.0 250.8 1165.0 253.0 1164.0 255.3 1162.9 257.6 1161.9 259.9 1160.9 262.2 1159.9 264.5 1158.8 266.7 1157.8 269.0 1156.7 271.3 1155.7 273.6 1154.6 275.8 1153.6 278.1 1152.5 280.4 1151.5 282.7 1150.4 284.9 1149.4 287.2 1148.3 289.5 1147.2 291.7 1146.2 294.0 1145.1 296.3 1144.0 298.5 1142.9 300.8 1141.8 303.1 1140.8 305.3 1139.7 307.6 1138.6 309.8 1137.5 312.1 1136.4 314.4 1135.3 316.6 1134.2 318.9 1133.1 321.1 1132.0 323.4 1130.9 325.6 1129.8 327.9 1128.7 330.1 1127.6 332.4 1126.5 334.6 1125.3 336.9 1124.2 339.1 1123.1 341.4 1122.0 343.6 1120.9 345.9 1119.7 348.1 1118.6 350.4 1117.5 352.6 1116.4 354.9 1115.2 357.1 1114.1 359.3 1113.0 361.6 1111.8 363.8 1110.7 366.1 1109.6 368.3 1108.4 370.6 1107.3 372.8 1106.2 375.0 1105.0 377.3 1103.9 379.5 1102.8 381.8 1101.6 384.0 1100.5 386.2 1099.3 388.5 1098.2 390.7 1097.0 392.9 1095.9 395.2 1094.8 397.4 1093.6 399.7 1092.5 401.9 1091.3 404.1 1090.2 406.4 1089.0 408.6 1087.9 410.8 1086.7 413.1 1085.6 415.3 1084.4 417.5 1083.3 419.8 1082.2 422.0 1081.0 424.3 1079.9 426.5 1078.7 428.7 1077.6 431.0 1076.4 433.2 1075.3 435.4 1074.1 437.7 1073.0 439.9 1071.9 442.1 1070.7 444.4 1069.6 446.6 1068.4 448.8 1067.3 451.1 1066.1 453.3 1065.0 455.6 1063.9 457.8 1062.7 460.0 1061.6 462.2 1060.4 464.5 1059.3 466.7 1058.1 468.9 1056.9 471.1 1055.8 473.3 1054.6 475.6 1053.4 477.8 1052.3 480.0 1051.1 482.2 1049.9 484.4 1048.7 486.5 1047.5 488.7 1046.3 490.9 1045.1 493.1 1043.8 495.3 1042.6 497.4 1041.4 499.6 1040.1 501.7 1038.8 503.9 1037.6 506.0 1036.3 508.1 1035.0 510.2 1033.7 512.3 1032.4 514.5 1031.0 516.5 1029.7 518.6 1028.3 520.7 1027.0 522.8 1025.6 524.8 1024.2 526.9 1022.8 528.9 1021.4 530.9 1019.9 533.0 1018.5 535.0 1017.0 537.0 1015.5 538.9 1014.0 540.9 1012.5 542.9 1010.9 544.8 1009.4 546.7 1007.8 548.7 1006.2 550.6 1004.6 552.5 1003.0 554.3 1001.3 556.2 999.6 558.1 997.9 559.9 996.2 561.7 994.5 563.5 992.7 565.3 990.9 567.1 989.1 568.9 987.3 570.7 985.5 572.4 983.7 574.2 981.8 575.9 979.9 577.6 978.0 579.3 976.1 581.0 974.2 582.8 972.3 584.5 970.4 586.1 968.5 587.8 966.6 589.5 964.6 591.2 962.7 592.9 960.7 594.6 958.8 596.2 956.8 597.9 954.9 599.6 953.0 601.3 951.0 603.0 949.1 604.6 947.2 606.3 945.2 608.0 943.3 609.7 941.4 611.4 939.5 613.1 937.6 614.8 935.7 616.5 933.9 618.2 932.0 620.0 930.2 621.7 928.3 623.5 926.5 625.2 924.7 627.0 922.9 628.8 921.2 630.6 919.4 632.4 917.7 634.2 916.0 636.0 914.4 637.9 912.7 639.7 911.1 641.6 909.5 643.5 907.9 645.4 906.4 647.4 904.9 649.3 903.4 651.3 902.0 653.3 900.5 655.3 899.2 657.3 897.8 659.4 896.5 661.5 895.2 663.6 894.0 665.7 892.8 667.8 891.6 670.0 890.5 672.2 889.4 674.4 888.4 676.7 887.4 679.0 886.5 681.3 885.6 683.6 884.7 686.0 883.9 688.4 883.2 690.8 882.5 693.2 881.8 695.7 881.3 698.1 880.8 700.6 880.3 703.1 880.0 705.6 879.7 708.1 879.5 710.6 879.3 713.1 879.3 715.6 879.3 718.1 879.5 720.6 879.7 723.1 880.0 725.5 880.5 728.0 881.0 730.4 881.6 732.8 882.4 735.2 883.1 737.5 884.0 739.9 885.0 742.1 886.0 744.4 887.0 746.6 888.2 748.8 889.3 751.0 890.6 753.1 891.8 755.2 893.2 757.2 894.5 759.2 895.9 761.1 897.4 763.1 898.8 765.0 900.4 766.8 901.9 768.6 903.5 770.4 905.2 772.2 906.9 773.9 908.6 775.6 910.3 777.3 912.1 778.9 913.9 780.5 915.7 782.1 917.6 783.7 919.5 785.2 921.4 786.7 923.4 788.2 925.4 789.7 927.4 791.1 929.4 792.5 931.5 793.9 933.5 795.3 935.6 796.7 937.8 798.0 939.9 799.3 942.1 800.6 944.2 801.9 946.4 803.2 948.7 804.5 950.9 805.7 953.1 806.9 955.4 808.2 957.6 809.4 959.9 810.6 962.2 811.8 964.5 813.0 966.8 814.1 969.1 815.3 971.4 816.4 973.7 817.6 976.1 818.7 978.4 819.9 980.7 821.0 983.1 822.2 985.4 823.3 987.7 824.4 990.1 825.6 992.4 826.7 994.7 827.8 997.0 828.9 999.4 830.1 1001.7 831.2 1004.0 832.4 1006.3 833.5 1008.6 834.7 1010.8 835.8 1013.1 837.0 1015.3 838.2 1017.6 839.4 1019.8 840.5 1022.0 841.8 1024.2 843.0 1026.4 844.2 1028.6 845.4 1030.7 846.6 1032.9 847.9 1035.0 849.1 1037.2 850.4 1039.3 851.7 1041.4 852.9 1043.5 854.2 1045.6 855.5 1047.7 856.8 1049.8 858.0 1051.9 859.3 1054.0 860.6 1056.0 861.9 1058.1 863.2 1060.2 864.5 1062.3 865.8 1064.4 867.1 1066.5 868.4 1068.6 869.7 1070.7 871.0 1072.8 872.2 1074.9 873.5 1077.0 874.8 1079.1 876.1 1081.2 877.4 1083.4 878.7 1085.5 880.0 1087.6 881.3 1089.8 882.6 1091.9 883.9 1094.0 885.2 1096.2 886.5 1098.3 887.9 1100.4 889.2 1102.5 890.5 1104.6 891.9 1106.8 893.2 1108.9 894.6 1111.0 896.0 1113.1 897.4 1115.2 898.8 1117.2 900.2 1119.3 901.6 1121.4 903.1 1123.4 904.5 1125.5 906.0 1127.5 907.5 1129.6 909.0 1131.6 910.5 1133.6 912.1 1135.5 913.6 1137.5 915.2 1139.5 916.8 1141.4 918.4 1143.3 920.0 1145.3 921.7 1147.2 923.4 1149.0 925.0 1150.9 926.7 1152.8 928.5 1154.6 930.2 1156.4 932.0 1158.2 933.7 1160.0 935.5 1161.8 937.3 1163.5 939.1 1165.3 940.9 1167.0 942.8 1168.7 944.7 1170.4 946.5 1172.1 948.4 1173.7 950.3 1175.4 952.2 1177.0 954.2 1178.6 956.1 1180.2 958.1 1181.8 960.1 1183.3 962.1 1184.9 964.1 1186.4 966.1 1187.9 968.1 1189.4 970.2 1190.8 972.2 1192.3 974.3 1193.7 976.4 1195.1 978.5 1196.5 980.6 1197.8 982.7 1199.2 984.8 1200.5 987.0 1201.8 989.1 1203.1 991.3 1204.4 993.4 1205.6 995.6 1206.8 997.8 1208.0 1000.0 1209.2 1002.2 1210.4 1004.5 1211.5 1006.7 1212.6 1008.9 1213.7 1011.2 1214.8 1013.5 1215.9 1015.7 1216.9 1018.0 1217.9 1020.3 1218.9 1022.6 1219.9 1024.9 1220.8 1027.2 1221.7 1029.6 1222.6 1031.9 1223.5 1034.2 1224.4 1036.6 1225.2 1038.9 1226.0 1041.3 1226.8 1043.7 1227.6 1046.0 1228.3 1048.4 1229.0 1050.8 1229.8 1053.2 1230.4 1055.6 1231.1 1058.0 1231.8 1060.4 1232.4 1062.9 1233.0 1065.3 1233.6 1067.7 1234.2 1070.1 1234.8 1072.6 1235.3 1075.0 1235.9 1077.5 1236.4 1079.9 1236.9 1082.4 1237.4 1084.8 1237.9 1087.3 1238.4 1089.8 1238.8 1092.2 1239.3 1094.7 1239.7 1097.2 1240.2 1099.7 1240.6 1102.1 1241.0 1104.6 1241.4 1107.1 1241.8 1109.6 1242.2 1112.1 1242.6 1114.6 1243.0 1117.1 1243.3 1119.6 1243.7 1122.0 1244.1 1124.5 1244.4 1127.0 1244.8 1129.5 1245.1 1132.0 1245.5 1134.5 1245.8 1137.0 1246.2 1139.5 1246.5 1142.0 1246.9 1144.5 1247.2 1147.0 1247.6 1149.5 1247.9 1152.0 1248.2 1154.5 1248.6 1157.0 1248.9 1159.4 1249.3 1161.9 1249.7 1164.4 1250.0 1166.9 1250.4 1169.4 1250.8 1171.8 1251.1 1174.3 1251.5 1176.8 1251.9 1179.2 1252.3 1181.7 1252.7 1184.2 1253.1 1186.6 1253.5 1189.1 1254.0 1191.5 1254.4 1212.3 1242.9 1214.8 1243.3 1217.3 1243.8 1219.8 1244.2 1222.4 1244.5 1224.9 1244.9 1227.4 1245.3 1229.9 1245.6 1232.4 1246.0 1235.0 1246.3 1237.5 1246.6 1240.0 1246.9 1242.6 1247.2 1245.1 1247.5 1247.6 1247.7 1250.1 1248.0 1252.7 1248.2 1255.2 1248.4 1257.8 1248.6 1260.3 1248.9 1262.8 1249.0 1265.4 1249.2 1267.9 1249.4 1270.4 1249.6 1273.0 1249.7 1275.5 1249.9 1278.1 1250.0 1280.6 1250.1 1283.2 1250.3 1285.7 1250.4 1288.3 1250.5 1290.8 1250.6 1293.3 1250.6 1295.9 1250.7 1298.4 1250.8 1301.0 1250.9 1303.5 1250.9 1306.1 1251.0 1308.6 1251.0 1311.2 1251.0 1313.7 1251.1 1316.3 1251.1 1318.8 1251.1 1321.4 1251.1 1323.9 1251.1 1326.5 1251.2 1329.0 1251.2 1331.6 1251.1 1334.1 1251.1 1336.7 1251.1 1339.2 1251.1 1341.8 1251.1 1344.3 1251.1 1346.9 1251.0 1349.4 1251.0 1352.0 1251.0 1354.5 1250.9 1357.1 1250.9 1359.6 1250.9 1362.2 1250.8 1364.7 1250.8 1367.3 1250.7 1369.8 1250.7 1372.3 1250.6 1374.9 1250.6 1377.4 1250.5 1380.0 1250.5 1382.5 1250.4 1385.1 1250.4 1387.6 1250.3 1390.1 1250.3 1392.7 1250.2 1395.2 1250.2 1416.0 1266.5 1418.5 1266.7 1421.0 1266.9 1423.5 1267.2 1426.0 1267.4 1428.6 1267.6 1431.1 1267.8 1433.6 1268.0 1436.1 1268.2 1438.6 1268.4 1441.1 1268.6 1443.6 1268.8 1446.1 1269.0 1448.7 1269.1 1451.2 1269.3 1453.7 1269.5 1456.2 1269.7 1458.7 1269.8 1461.2 1270.0 1463.7 1270.2 1466.3 1270.3 1468.8 1270.5 1471.3 1270.6 1473.8 1270.8 1476.3 1270.9 1478.8 1271.1 1481.4 1271.2 1483.9 1271.4 1486.4 1271.5 1488.9 1271.6 1491.4 1271.7 1493.9 1271.9 1496.4 1272.0 1499.0 1272.1 1501.5 1272.2 1504.0 1272.4 1506.5 1272.5 1509.0 1272.6 1511.6 1272.7 1514.1 1272.8 1516.6 1272.9 1519.1 1273.0 1521.6 1273.1 1524.1 1273.2 1526.7 1273.3 1529.2 1273.4 1531.7 1273.5 1534.2 1273.6 1536.7 1273.6 1539.3 1273.7 1541.8 1273.8 1544.3 1273.9 1546.8 1274.0 1549.3 1274.0 1551.9 1274.1 1554.4 1274.2 1556.9 1274.3 1559.4 1274.3 1561.9 1274.4 1564.5 1274.5 1567.0 1274.5 1569.5 1274.6 1572.0 1274.6 1574.5 1274.7 1577.1 1274.8 1579.6 1274.8 1582.1 1274.9 1584.6 1274.9 1587.1 1275.0 1589.7 1275.0 1592.2 1275.1 1594.7 1275.1 1597.2 1275.2 1599.7 1275.2 1602.3 1275.3 1604.8 1275.3 1607.3 1275.4 1609.8 1275.4 1612.3 1275.4 1614.9 1275.5 1617.4 1275.5 1619.9 1275.6 1622.4 1275.6 1624.9 1275.6 1627.5 1275.7 1630.0 1275.7 1632.5 1275.7 1635.0 1275.8 1637.6 1275.8 1640.1 1275.8 1642.6 1275.9 1645.1 1275.9 1647.6 1275.9 1650.2 1276.0 1652.7 1276.0 1655.2 1276.0 1657.7 1276.0 1660.2 1276.1 1662.8 1276.1 1665.3 1276.1 1667.8 1276.2 1670.3 1276.2 1672.8 1276.2 1675.4 1276.2 1677.9 1276.3 1680.4 1276.3 1682.9 1276.3 1685.4 1276.4 1688.0 1276.4 1690.5 1276.4 1693.0 1276.5 1695.5 1276.5 1698.0 1276.5 1700.6 1276.5 1703.1 1276.6 1705.6 1276.6 1708.1 1276.6 1710.6 1276.7 1713.2 1276.7 1715.7 1276.7 1718.2 1276.8 1720.7 1276.8 1723.2 1276.8 1725.8 1276.9 1728.3 1276.9 1730.8 1277.0 1733.3 1277.0 1735.8 1277.0 1738.3 1277.1 1740.9 1277.1 1743.4 1277.2 1745.9 1277.2 1748.4 1277.3 1750.9 1277.3 1753.4 1277.4 1756.0 1277.4 1758.5 1277.4 1761.0 1277.5" stroke="#800080"/></g><g style="font-family:'Liberation Sans',Arial,Helvetica,sans-serif;font-weight:bold" fill="#000" stroke="#fdfdfd" stroke-width="0.9"><text x="195" y="1293.5" text-anchor="end" font-size="49">0.0</text><text x="195" y="1148.6" text-anchor="end" font-size="49">0.2</text><text x="195" y="1003.6" text-anchor="end" font-size="49">0.4</text><text x="195" y="858.7" text-anchor="end" font-size="49">0.6</text><text x="195" y="713.7" text-anchor="end" font-size="49">0.8</text><text x="195" y="568.8" text-anchor="end" font-size="49">1.0</text><text x="195" y="423.9" text-anchor="end" font-size="49">1.2</text><text x="195" y="278.9" text-anchor="end" font-size="49">1.4</text><text x="195" y="134.0" text-anchor="end" font-size="49">1.6</text><text x="234.0" y="1358.5" text-anchor="middle" font-size="49">450</text><text x="743.5" y="1358.5" text-anchor="middle" font-size="49">500</text><text x="1253.0" y="1358.5" text-anchor="middle" font-size="49">550</text><text x="1762.5" y="1358.5" text-anchor="middle" font-size="49">600</text><text x="998" y="1456" text-anchor="middle" font-size="58">Wavelength(nm)</text><text transform="translate(69,671.5) rotate(-90)" x="0" y="0" text-anchor="middle" font-size="60">Absorbance</text><text x="264.5" y="113" font-size="59">(a)</text></g><g style="font-family:'Liberation Sans',Arial,Helvetica,sans-serif;font-weight:bold" fill="#000"><rect x="1522" y="384" width="200" height="478" fill="#000"/><rect x="1504.5" y="365.5" width="199" height="479" fill="#fff" stroke="#808080" stroke-width="3"/><text x="1632.5" y="354" font-size="48" stroke="#fdfdfd" stroke-width="0.9">min</text><line x1="1507" y1="400.0" x2="1622" y2="400.0" stroke="#ff0000" stroke-width="6.5"/><text x="1631" y="415.5" font-size="48" stroke="#fff" stroke-width="0.9">-30</text><line x1="1507" y1="458.8" x2="1622" y2="458.8" stroke="#00ff00" stroke-width="6.5"/><text x="1631" y="474.3" font-size="48" stroke="#fff" stroke-width="0.9">00</text><line x1="1507" y1="517.5" x2="1622" y2="517.5" stroke="#0000ff" stroke-width="6.5"/><text x="1631" y="533.0" font-size="48" stroke="#fff" stroke-width="0.9">15</text><line x1="1507" y1="576.3" x2="1622" y2="576.3" stroke="#ff00ff" stroke-width="6.5"/><text x="1631" y="591.8" font-size="48" stroke="#fff" stroke-width="0.9">30</text><line x1="1507" y1="635.1" x2="1622" y2="635.1" stroke="#008000" stroke-width="6.5"/><text x="1631" y="650.6" font-size="48" stroke="#fff" stroke-width="0.9">45</text><line x1="1507" y1="693.9" x2="1622" y2="693.9" stroke="#000080" stroke-width="6.5"/><text x="1631" y="709.4" font-size="48" stroke="#fff" stroke-width="0.9">60</text><line x1="1507" y1="752.6" x2="1622" y2="752.6" stroke="#8000ff" stroke-width="6.5"/><text x="1631" y="768.1" font-size="48" stroke="#fff" stroke-width="0.9">75</text><line x1="1507" y1="811.4" x2="1622" y2="811.4" stroke="#800080" stroke-width="6.5"/><text x="1631" y="826.9" font-size="48" stroke="#fff" stroke-width="0.9">90</text></g></svg></body></html>
